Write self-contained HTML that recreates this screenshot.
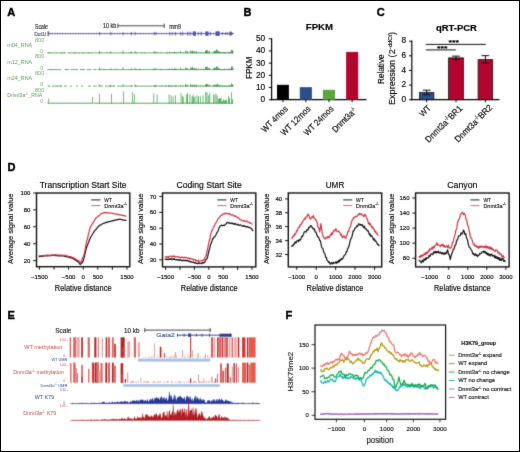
<!DOCTYPE html>
<html><head><meta charset="utf-8"><style>
html,body{margin:0;padding:0;background:#fff;}
svg{display:block;}
text{font-family:"Liberation Sans",sans-serif;}
</style></head><body>
<svg width="520" height="452" viewBox="0 0 520 452">
<defs><filter id="bl" x="0" y="0" width="520" height="452" filterUnits="userSpaceOnUse" color-interpolation-filters="sRGB"><feConvolveMatrix order="3" kernelMatrix="1 6 1 6 36 6 1 6 1" divisor="64" edgeMode="duplicate" preserveAlpha="true"/></filter><filter id="bl2" x="0" y="0" width="520" height="452" filterUnits="userSpaceOnUse" color-interpolation-filters="sRGB"><feConvolveMatrix order="3" kernelMatrix="0 1 0 1 12 1 0 1 0" divisor="16" edgeMode="none" preserveAlpha="false"/></filter></defs>
<g filter="url(#bl)">
<rect width="520" height="452" fill="#fff"/>
<line x1="117.7" y1="25.8" x2="164.4" y2="25.8" stroke="#333" stroke-width="0.9"/>
<line x1="117.9" y1="23.6" x2="117.9" y2="28" stroke="#333" stroke-width="0.9"/>
<line x1="164.2" y1="23.6" x2="164.2" y2="28" stroke="#333" stroke-width="0.9"/>
<line x1="47.7" y1="33.6" x2="233.3" y2="33.6" stroke="#3a3a96" stroke-width="0.7"/>
<path d="M49.4,32.8 L50.3,33.6 L49.4,34.4" fill="none" stroke="#3a3a96" stroke-width="0.45"/>
<path d="M52,32.8 L52.9,33.6 L52,34.4" fill="none" stroke="#3a3a96" stroke-width="0.45"/>
<path d="M54.6,32.8 L55.5,33.6 L54.6,34.4" fill="none" stroke="#3a3a96" stroke-width="0.45"/>
<path d="M57.2,32.8 L58.1,33.6 L57.2,34.4" fill="none" stroke="#3a3a96" stroke-width="0.45"/>
<path d="M59.8,32.8 L60.7,33.6 L59.8,34.4" fill="none" stroke="#3a3a96" stroke-width="0.45"/>
<path d="M62.4,32.8 L63.3,33.6 L62.4,34.4" fill="none" stroke="#3a3a96" stroke-width="0.45"/>
<path d="M65,32.8 L65.9,33.6 L65,34.4" fill="none" stroke="#3a3a96" stroke-width="0.45"/>
<path d="M67.6,32.8 L68.5,33.6 L67.6,34.4" fill="none" stroke="#3a3a96" stroke-width="0.45"/>
<path d="M70.2,32.8 L71.1,33.6 L70.2,34.4" fill="none" stroke="#3a3a96" stroke-width="0.45"/>
<path d="M72.8,32.8 L73.7,33.6 L72.8,34.4" fill="none" stroke="#3a3a96" stroke-width="0.45"/>
<path d="M75.4,32.8 L76.3,33.6 L75.4,34.4" fill="none" stroke="#3a3a96" stroke-width="0.45"/>
<path d="M78,32.8 L78.9,33.6 L78,34.4" fill="none" stroke="#3a3a96" stroke-width="0.45"/>
<path d="M80.6,32.8 L81.5,33.6 L80.6,34.4" fill="none" stroke="#3a3a96" stroke-width="0.45"/>
<path d="M83.2,32.8 L84.1,33.6 L83.2,34.4" fill="none" stroke="#3a3a96" stroke-width="0.45"/>
<path d="M85.8,32.8 L86.7,33.6 L85.8,34.4" fill="none" stroke="#3a3a96" stroke-width="0.45"/>
<path d="M88.4,32.8 L89.3,33.6 L88.4,34.4" fill="none" stroke="#3a3a96" stroke-width="0.45"/>
<path d="M91,32.8 L91.9,33.6 L91,34.4" fill="none" stroke="#3a3a96" stroke-width="0.45"/>
<path d="M93.6,32.8 L94.5,33.6 L93.6,34.4" fill="none" stroke="#3a3a96" stroke-width="0.45"/>
<path d="M96.2,32.8 L97.1,33.6 L96.2,34.4" fill="none" stroke="#3a3a96" stroke-width="0.45"/>
<path d="M98.8,32.8 L99.7,33.6 L98.8,34.4" fill="none" stroke="#3a3a96" stroke-width="0.45"/>
<path d="M101.4,32.8 L102.3,33.6 L101.4,34.4" fill="none" stroke="#3a3a96" stroke-width="0.45"/>
<path d="M104,32.8 L104.9,33.6 L104,34.4" fill="none" stroke="#3a3a96" stroke-width="0.45"/>
<path d="M106.6,32.8 L107.5,33.6 L106.6,34.4" fill="none" stroke="#3a3a96" stroke-width="0.45"/>
<path d="M109.2,32.8 L110.1,33.6 L109.2,34.4" fill="none" stroke="#3a3a96" stroke-width="0.45"/>
<path d="M111.8,32.8 L112.7,33.6 L111.8,34.4" fill="none" stroke="#3a3a96" stroke-width="0.45"/>
<path d="M114.4,32.8 L115.3,33.6 L114.4,34.4" fill="none" stroke="#3a3a96" stroke-width="0.45"/>
<path d="M117,32.8 L117.9,33.6 L117,34.4" fill="none" stroke="#3a3a96" stroke-width="0.45"/>
<path d="M119.6,32.8 L120.5,33.6 L119.6,34.4" fill="none" stroke="#3a3a96" stroke-width="0.45"/>
<path d="M122.2,32.8 L123.1,33.6 L122.2,34.4" fill="none" stroke="#3a3a96" stroke-width="0.45"/>
<path d="M124.8,32.8 L125.7,33.6 L124.8,34.4" fill="none" stroke="#3a3a96" stroke-width="0.45"/>
<path d="M127.4,32.8 L128.3,33.6 L127.4,34.4" fill="none" stroke="#3a3a96" stroke-width="0.45"/>
<path d="M130,32.8 L130.9,33.6 L130,34.4" fill="none" stroke="#3a3a96" stroke-width="0.45"/>
<path d="M132.6,32.8 L133.5,33.6 L132.6,34.4" fill="none" stroke="#3a3a96" stroke-width="0.45"/>
<path d="M135.2,32.8 L136.1,33.6 L135.2,34.4" fill="none" stroke="#3a3a96" stroke-width="0.45"/>
<path d="M137.8,32.8 L138.7,33.6 L137.8,34.4" fill="none" stroke="#3a3a96" stroke-width="0.45"/>
<path d="M140.4,32.8 L141.3,33.6 L140.4,34.4" fill="none" stroke="#3a3a96" stroke-width="0.45"/>
<path d="M143,32.8 L143.9,33.6 L143,34.4" fill="none" stroke="#3a3a96" stroke-width="0.45"/>
<path d="M145.6,32.8 L146.5,33.6 L145.6,34.4" fill="none" stroke="#3a3a96" stroke-width="0.45"/>
<path d="M148.2,32.8 L149.1,33.6 L148.2,34.4" fill="none" stroke="#3a3a96" stroke-width="0.45"/>
<path d="M150.8,32.8 L151.7,33.6 L150.8,34.4" fill="none" stroke="#3a3a96" stroke-width="0.45"/>
<path d="M153.4,32.8 L154.3,33.6 L153.4,34.4" fill="none" stroke="#3a3a96" stroke-width="0.45"/>
<path d="M156,32.8 L156.9,33.6 L156,34.4" fill="none" stroke="#3a3a96" stroke-width="0.45"/>
<path d="M158.6,32.8 L159.5,33.6 L158.6,34.4" fill="none" stroke="#3a3a96" stroke-width="0.45"/>
<path d="M161.2,32.8 L162.1,33.6 L161.2,34.4" fill="none" stroke="#3a3a96" stroke-width="0.45"/>
<path d="M163.8,32.8 L164.7,33.6 L163.8,34.4" fill="none" stroke="#3a3a96" stroke-width="0.45"/>
<path d="M166.4,32.8 L167.3,33.6 L166.4,34.4" fill="none" stroke="#3a3a96" stroke-width="0.45"/>
<path d="M169,32.8 L169.9,33.6 L169,34.4" fill="none" stroke="#3a3a96" stroke-width="0.45"/>
<path d="M171.6,32.8 L172.5,33.6 L171.6,34.4" fill="none" stroke="#3a3a96" stroke-width="0.45"/>
<path d="M174.2,32.8 L175.1,33.6 L174.2,34.4" fill="none" stroke="#3a3a96" stroke-width="0.45"/>
<path d="M176.8,32.8 L177.7,33.6 L176.8,34.4" fill="none" stroke="#3a3a96" stroke-width="0.45"/>
<path d="M179.4,32.8 L180.3,33.6 L179.4,34.4" fill="none" stroke="#3a3a96" stroke-width="0.45"/>
<path d="M182,32.8 L182.9,33.6 L182,34.4" fill="none" stroke="#3a3a96" stroke-width="0.45"/>
<path d="M184.6,32.8 L185.5,33.6 L184.6,34.4" fill="none" stroke="#3a3a96" stroke-width="0.45"/>
<path d="M187.2,32.8 L188.1,33.6 L187.2,34.4" fill="none" stroke="#3a3a96" stroke-width="0.45"/>
<path d="M189.8,32.8 L190.7,33.6 L189.8,34.4" fill="none" stroke="#3a3a96" stroke-width="0.45"/>
<path d="M192.4,32.8 L193.3,33.6 L192.4,34.4" fill="none" stroke="#3a3a96" stroke-width="0.45"/>
<path d="M195,32.8 L195.9,33.6 L195,34.4" fill="none" stroke="#3a3a96" stroke-width="0.45"/>
<path d="M197.6,32.8 L198.5,33.6 L197.6,34.4" fill="none" stroke="#3a3a96" stroke-width="0.45"/>
<path d="M200.2,32.8 L201.1,33.6 L200.2,34.4" fill="none" stroke="#3a3a96" stroke-width="0.45"/>
<path d="M202.8,32.8 L203.7,33.6 L202.8,34.4" fill="none" stroke="#3a3a96" stroke-width="0.45"/>
<path d="M205.4,32.8 L206.3,33.6 L205.4,34.4" fill="none" stroke="#3a3a96" stroke-width="0.45"/>
<path d="M208,32.8 L208.9,33.6 L208,34.4" fill="none" stroke="#3a3a96" stroke-width="0.45"/>
<path d="M210.6,32.8 L211.5,33.6 L210.6,34.4" fill="none" stroke="#3a3a96" stroke-width="0.45"/>
<path d="M213.2,32.8 L214.1,33.6 L213.2,34.4" fill="none" stroke="#3a3a96" stroke-width="0.45"/>
<path d="M215.8,32.8 L216.7,33.6 L215.8,34.4" fill="none" stroke="#3a3a96" stroke-width="0.45"/>
<path d="M218.4,32.8 L219.3,33.6 L218.4,34.4" fill="none" stroke="#3a3a96" stroke-width="0.45"/>
<path d="M221,32.8 L221.9,33.6 L221,34.4" fill="none" stroke="#3a3a96" stroke-width="0.45"/>
<path d="M223.6,32.8 L224.5,33.6 L223.6,34.4" fill="none" stroke="#3a3a96" stroke-width="0.45"/>
<path d="M226.2,32.8 L227.1,33.6 L226.2,34.4" fill="none" stroke="#3a3a96" stroke-width="0.45"/>
<path d="M228.8,32.8 L229.7,33.6 L228.8,34.4" fill="none" stroke="#3a3a96" stroke-width="0.45"/>
<path d="M231.4,32.8 L232.3,33.6 L231.4,34.4" fill="none" stroke="#3a3a96" stroke-width="0.45"/>
<rect x="47.6" y="31.1" width="1.2" height="5" fill="#4a4aa0"/>
<rect x="99.3" y="31.9" width="0.7" height="3.4" fill="#4a4aa0"/>
<rect x="110.6" y="31.9" width="0.7" height="3.4" fill="#4a4aa0"/>
<rect x="122.7" y="31.8" width="0.7" height="3.6" fill="#4a4aa0"/>
<rect x="131.3" y="31.9" width="0.7" height="3.4" fill="#4a4aa0"/>
<rect x="134.8" y="31.9" width="0.7" height="3.4" fill="#4a4aa0"/>
<rect x="153.8" y="31.9" width="0.7" height="3.4" fill="#4a4aa0"/>
<rect x="155.6" y="31.9" width="0.7" height="3.4" fill="#4a4aa0"/>
<rect x="169.4" y="31.8" width="0.7" height="3.6" fill="#4a4aa0"/>
<rect x="171.8" y="31.8" width="0.7" height="3.6" fill="#4a4aa0"/>
<rect x="175.2" y="31.8" width="0.8" height="3.6" fill="#4a4aa0"/>
<rect x="180.4" y="31.7" width="0.8" height="3.8" fill="#4a4aa0"/>
<rect x="182.4" y="31.7" width="0.8" height="3.8" fill="#4a4aa0"/>
<rect x="186.9" y="31.7" width="0.7" height="3.8" fill="#4a4aa0"/>
<rect x="188.7" y="31.7" width="0.7" height="3.8" fill="#4a4aa0"/>
<rect x="190.5" y="31.7" width="0.7" height="3.8" fill="#4a4aa0"/>
<rect x="192.9" y="31.4" width="3" height="4.4" fill="#5050a8"/>
<rect x="198.2" y="31.8" width="0.7" height="3.6" fill="#4a4aa0"/>
<rect x="200.8" y="31.7" width="0.9" height="3.8" fill="#4a4aa0"/>
<rect x="205.4" y="31.4" width="3" height="4.4" fill="#5050a8"/>
<rect x="209.7" y="31.7" width="0.9" height="3.8" fill="#4a4aa0"/>
<rect x="215.5" y="31.3" width="4.2" height="4.6" fill="#5050a8"/>
<rect x="222" y="32.1" width="0.7" height="3" fill="#4a4aa0"/>
<rect x="225" y="32.1" width="0.7" height="3" fill="#4a4aa0"/>
<rect x="227.4" y="32.1" width="0.7" height="3" fill="#4a4aa0"/>
<rect x="229.4" y="31.6" width="2.2" height="4" fill="#5050a8"/>
<path d="M231.5,32.2 L233.6,33.6 L231.5,35" fill="#3a3a96"/>
<line x1="45.9" y1="40.5" x2="46.9" y2="40.5" stroke="#8dc08d" stroke-width="0.5"/>
<line x1="45.9" y1="57.1" x2="46.9" y2="57.1" stroke="#8dc08d" stroke-width="0.5"/>
<line x1="45.9" y1="73.6" x2="46.9" y2="73.6" stroke="#8dc08d" stroke-width="0.5"/>
<line x1="45.9" y1="90.8" x2="46.9" y2="90.8" stroke="#8dc08d" stroke-width="0.5"/>
<path d="M47.1,52.9 H66 M67.5,52.9 H80 M80.5,52.9 H233.3" stroke="#2a8a38" stroke-width="0.7" fill="none"/>
<path d="M99.05,53.2 V51 H99.75 V53.2 Z M110.5,53.2 V51.5 H111.2 V53.2 Z M122.6,53.2 V50.5 H123.3 V53.2 Z M131.2,53.2 V51.5 H131.9 V53.2 Z M134.7,53.2 V51 H135.4 V53.2 Z M153.7,53.2 V51.5 H154.4 V53.2 Z M155.5,53.2 V51.5 H156.2 V53.2 Z M169.3,53.2 V51.5 H170 V53.2 Z M171.7,53.2 V51.8 H172.4 V53.2 Z M174.7,53.2 V51.8 H175.4 V53.2 Z M180.15,53.2 V51 H180.85 V53.2 Z M182.5,53.2 V52 H183.2 V53.2 Z M185.15,53.2 V50.5 H185.85 V53.2 Z M186.5,53.2 V51.6 H187.25 V53.2 Z M187.39,53.2 V51.3 H188 V53.2 Z M190.15,53.2 V50.5 H190.85 V53.2 Z M191.5,53.2 V51.12 H192.25 V53.2 Z M192.41,53.2 V50.57 H193 V53.2 Z M193.5,53.2 V51.23 H194.25 V53.2 Z M194.63,53.2 V51.05 H195 V53.2 Z M195.5,53.2 V51.42 H196.25 V53.2 Z M196.36,53.2 V51.49 H197 V53.2 Z M198.05,53.2 V52 H198.75 V53.2 Z M200.5,53.2 V51.8 H201.2 V53.2 Z M203.05,53.2 V52 H203.75 V53.2 Z M205,53.2 V50.97 H205.75 V53.2 Z M205.89,53.2 V50.12 H206.5 V53.2 Z M206.5,53.2 V50.61 H207.25 V53.2 Z M207.59,53.2 V49.76 H208 V53.2 Z M208.5,53.2 V51.48 H209.25 V53.2 Z M209.41,53.2 V50.78 H210 V53.2 Z M213.15,53.2 V51.5 H213.85 V53.2 Z M214,53.2 V50.8 H214.75 V53.2 Z M215.12,53.2 V50.96 H215.87 V53.2 Z M216,53.2 V49.24 H216.75 V53.2 Z M217.17,53.2 V49.93 H217.92 V53.2 Z M218,53.2 V51.28 H218.75 V53.2 Z M219.01,53.2 V51.34 H219.76 V53.2 Z M220,53.2 V52.23 H220.75 V53.2 Z M220.87,53.2 V52.35 H221.62 V53.2 Z M222.11,53.2 V52.14 H222.86 V53.2 Z M223.08,53.2 V52.15 H223.83 V53.2 Z M224.06,53.2 V52.12 H224.81 V53.2 Z M225.2,53.2 V52.31 H225.95 V53.2 Z M226.16,53.2 V52.46 H226.91 V53.2 Z M227.36,53.2 V52.45 H228.11 V53.2 Z M228.54,53.2 V52.11 H229 V53.2 Z M229,53.2 V52 H229.75 V53.2 Z M230.2,53.2 V51.52 H230.95 V53.2 Z M231,53.2 V49.79 H231.75 V53.2 Z M232,53.2 V50.04 H232.5 V53.2 Z M232.55,53.2 V51 H233.25 V53.2 Z M48.1,53.2 V52.02 H48.8 V53.2 Z M50.7,53.2 V52.3 H51.4 V53.2 Z M55.9,53.2 V52.68 H56.6 V53.2 Z M61.1,53.2 V52.34 H61.8 V53.2 Z M63.7,53.2 V51.94 H64.4 V53.2 Z M68.5,53.2 V52.68 H69.2 V53.2 Z M73.7,53.2 V52.36 H74.4 V53.2 Z M75,53.2 V52.52 H75.7 V53.2 Z M78.9,53.2 V52.52 H79.6 V53.2 Z M81.5,53.2 V52.33 H82.2 V53.2 Z M82.8,53.2 V52.68 H83.5 V53.2 Z M88,53.2 V51.91 H88.7 V53.2 Z M90.6,53.2 V52.43 H91.3 V53.2 Z M99.7,53.2 V52.23 H100.4 V53.2 Z M106.2,53.2 V52.51 H106.9 V53.2 Z M110.1,53.2 V52.26 H110.8 V53.2 Z M123.1,53.2 V52.67 H123.8 V53.2 Z M129.6,53.2 V52.3 H130.3 V53.2 Z M136.1,53.2 V52.29 H136.8 V53.2 Z M141.3,53.2 V52.26 H142 V53.2 Z M143.9,53.2 V52.07 H144.6 V53.2 Z M154.3,53.2 V52 H155 V53.2 Z M156.9,53.2 V52.3 H157.6 V53.2 Z M160.8,53.2 V52.27 H161.5 V53.2 Z M166,53.2 V52.52 H166.7 V53.2 Z M167.3,53.2 V52.23 H168 V53.2 Z M173.8,53.2 V52.03 H174.5 V53.2 Z M176.4,53.2 V52.69 H177.1 V53.2 Z M177.7,53.2 V52.1 H178.4 V53.2 Z" fill="#2a8a38" stroke="none"/>
<path d="M47.1,69.6 H61.4 M64.6,69.6 H69.3 M70.4,69.6 H77.8 M79.9,69.6 H85.2 M86.8,69.6 H91.6 M93.5,69.6 H96.5 M97.5,69.6 H233.3" stroke="#2a8a38" stroke-width="0.7" fill="none"/>
<path d="M99.05,69.9 V67.7 H99.75 V69.9 Z M110.5,69.9 V68.2 H111.2 V69.9 Z M122.6,69.9 V67.2 H123.3 V69.9 Z M131.2,69.9 V68.2 H131.9 V69.9 Z M134.7,69.9 V67.7 H135.4 V69.9 Z M153.7,69.9 V68.2 H154.4 V69.9 Z M155.5,69.9 V68.2 H156.2 V69.9 Z M169.3,69.9 V68.2 H170 V69.9 Z M171.7,69.9 V68.5 H172.4 V69.9 Z M174.7,69.9 V68.5 H175.4 V69.9 Z M180.15,69.9 V67.8 H180.85 V69.9 Z M182.5,69.9 V68.75 H183.2 V69.9 Z M185.15,69.9 V67.33 H185.85 V69.9 Z M186.5,69.9 V67.94 H187.25 V69.9 Z M187.41,69.9 V68.42 H188 V69.9 Z M190.15,69.9 V67.33 H190.85 V69.9 Z M191.5,69.9 V67.55 H192.25 V69.9 Z M192.37,69.9 V66.86 H193 V69.9 Z M193.5,69.9 V68.24 H194.25 V69.9 Z M194.49,69.9 V67.69 H195 V69.9 Z M195.5,69.9 V68.47 H196.25 V69.9 Z M196.48,69.9 V68.54 H197 V69.9 Z M198.05,69.9 V68.75 H198.75 V69.9 Z M200.5,69.9 V68.56 H201.2 V69.9 Z M203.05,69.9 V68.75 H203.75 V69.9 Z M205,69.9 V67.12 H205.75 V69.9 Z M206.15,69.9 V66.96 H206.5 V69.9 Z M206.5,69.9 V66.56 H207.25 V69.9 Z M207.63,69.9 V67.08 H208 V69.9 Z M208.5,69.9 V67.65 H209.25 V69.9 Z M209.48,69.9 V68.18 H210 V69.9 Z M213.15,69.9 V68.28 H213.85 V69.9 Z M214,69.9 V67.44 H214.75 V69.9 Z M214.9,69.9 V67.72 H215.65 V69.9 Z M216,69.9 V66.79 H216.75 V69.9 Z M216.91,69.9 V66.15 H217.66 V69.9 Z M218,69.9 V68.1 H218.75 V69.9 Z M219.02,69.9 V68.55 H219.77 V69.9 Z M220,69.9 V69.14 H220.75 V69.9 Z M220.87,69.9 V69.18 H221.62 V69.9 Z M221.79,69.9 V69.15 H222.54 V69.9 Z M222.89,69.9 V69.01 H223.64 V69.9 Z M224.13,69.9 V68.87 H224.88 V69.9 Z M225.38,69.9 V69.11 H226.13 V69.9 Z M226.41,69.9 V69.1 H227.16 V69.9 Z M227.5,69.9 V68.97 H228.25 V69.9 Z M228.67,69.9 V68.94 H229 V69.9 Z M229,69.9 V68.6 H229.75 V69.9 Z M230.06,69.9 V68.84 H230.81 V69.9 Z M231,69.9 V66.8 H231.75 V69.9 Z M231.89,69.9 V66.32 H232.5 V69.9 Z M232.55,69.9 V67.8 H233.25 V69.9 Z M50.7,69.9 V69.33 H51.4 V69.9 Z M65.6,69.9 V69.06 H66.3 V69.9 Z M76.6,69.9 V69.37 H77.3 V69.9 Z M80.9,69.9 V69.03 H81.6 V69.9 Z M94.5,69.9 V69.38 H95.2 V69.9 Z M99.8,69.9 V68.99 H100.5 V69.9 Z M103.7,69.9 V68.69 H104.4 V69.9 Z M115.4,69.9 V68.8 H116.1 V69.9 Z M136.2,69.9 V69.14 H136.9 V69.9 Z M138.8,69.9 V68.67 H139.5 V69.9 Z M140.1,69.9 V68.67 H140.8 V69.9 Z M151.8,69.9 V68.99 H152.5 V69.9 Z M155.7,69.9 V68.74 H156.4 V69.9 Z M159.6,69.9 V68.8 H160.3 V69.9 Z M160.9,69.9 V68.88 H161.6 V69.9 Z M162.2,69.9 V69.22 H162.9 V69.9 Z M164.8,69.9 V68.98 H165.5 V69.9 Z M167.4,69.9 V69.23 H168.1 V69.9 Z M172.6,69.9 V69.11 H173.3 V69.9 Z M173.9,69.9 V68.86 H174.6 V69.9 Z M175.2,69.9 V68.64 H175.9 V69.9 Z M176.5,69.9 V68.82 H177.2 V69.9 Z M177.8,69.9 V69.2 H178.5 V69.9 Z" fill="#2a8a38" stroke="none"/>
<path d="M47.7,86.1 H50 M52,86.1 H62 M64,86.1 H67 M70,86.1 H72 M76,86.1 H78 M81,86.1 H83 M88,86.1 H91 M93,86.1 H97 M98.5,86.1 H103 M105,86.1 H115 M117,86.1 H133 M134.5,86.1 H233.3" stroke="#2a8a38" stroke-width="0.7" fill="none"/>
<path d="M99.05,86.4 V84.6 H99.75 V86.4 Z M110.5,86.4 V85 H111.2 V86.4 Z M122.6,86.4 V84.2 H123.3 V86.4 Z M131.2,86.4 V85 H131.9 V86.4 Z M134.7,86.4 V84.6 H135.4 V86.4 Z M153.7,86.4 V85 H154.4 V86.4 Z M155.5,86.4 V85 H156.2 V86.4 Z M169.3,86.4 V85 H170 V86.4 Z M171.7,86.4 V85.24 H172.4 V86.4 Z M174.7,86.4 V85.24 H175.4 V86.4 Z M180.15,86.4 V84.7 H180.85 V86.4 Z M182.5,86.4 V85.45 H183.2 V86.4 Z M185.15,86.4 V84.33 H185.85 V86.4 Z M186.5,86.4 V84.71 H187.25 V86.4 Z M187.55,86.4 V84.7 H188 V86.4 Z M190.15,86.4 V84.33 H190.85 V86.4 Z M191.5,86.4 V84.78 H192.25 V86.4 Z M192.59,86.4 V84.82 H193 V86.4 Z M193.5,86.4 V84.77 H194.25 V86.4 Z M194.59,86.4 V84.96 H195 V86.4 Z M195.5,86.4 V84.78 H196.25 V86.4 Z M196.48,86.4 V84.72 H197 V86.4 Z M198.05,86.4 V85.45 H198.75 V86.4 Z M200.5,86.4 V85.3 H201.2 V86.4 Z M203.05,86.4 V85.45 H203.75 V86.4 Z M205,86.4 V84.51 H205.75 V86.4 Z M206.03,86.4 V84.38 H206.5 V86.4 Z M206.5,86.4 V84 H207.25 V86.4 Z M207.57,86.4 V83.97 H208 V86.4 Z M208.5,86.4 V84.69 H209.25 V86.4 Z M209.52,86.4 V84.53 H210 V86.4 Z M213.15,86.4 V85.08 H213.85 V86.4 Z M214,86.4 V84.85 H214.75 V86.4 Z M215.24,86.4 V84.68 H215.99 V86.4 Z M216,86.4 V84.48 H216.75 V86.4 Z M217.02,86.4 V83.83 H217.77 V86.4 Z M218,86.4 V84.93 H218.75 V86.4 Z M219.1,86.4 V85.26 H219.85 V86.4 Z M220,86.4 V85.67 H220.75 V86.4 Z M221.12,86.4 V85.7 H221.87 V86.4 Z M222.25,86.4 V85.6 H223 V86.4 Z M223.11,86.4 V85.78 H223.86 V86.4 Z M224.23,86.4 V85.53 H224.98 V86.4 Z M225.18,86.4 V85.67 H225.93 V86.4 Z M226.27,86.4 V85.71 H227.02 V86.4 Z M227.27,86.4 V85.71 H228.02 V86.4 Z M228.26,86.4 V85.63 H229 V86.4 Z M229,86.4 V85.36 H229.75 V86.4 Z M230.16,86.4 V85.51 H230.91 V86.4 Z M231,86.4 V83.52 H231.75 V86.4 Z M231.97,86.4 V84.13 H232.5 V86.4 Z M232.55,86.4 V84.7 H233.25 V86.4 Z M48.7,86.4 V85.46 H49.4 V86.4 Z M56.9,86.4 V85.89 H57.6 V86.4 Z M60.8,86.4 V85.1 H61.5 V86.4 Z M99.5,86.4 V85.39 H100.2 V86.4 Z M109.9,86.4 V85.29 H110.6 V86.4 Z M113.8,86.4 V85.21 H114.5 V86.4 Z M131,86.4 V85.79 H131.7 V86.4 Z M135.5,86.4 V85.13 H136.2 V86.4 Z M155,86.4 V85.21 H155.7 V86.4 Z M161.5,86.4 V85.23 H162.2 V86.4 Z M165.4,86.4 V85.22 H166.1 V86.4 Z M168,86.4 V85.26 H168.7 V86.4 Z M170.6,86.4 V85.66 H171.3 V86.4 Z M174.5,86.4 V85.41 H175.2 V86.4 Z M175.8,86.4 V85.33 H176.5 V86.4 Z" fill="#2a8a38" stroke="none"/>
<path d="M47.7,103.2 H92.5 M93.5,103.2 H233.3" stroke="#2a8a38" stroke-width="0.8" fill="none"/>
<path d="M48.35,103.5 V98.6 H49.05 V103.5 Z M92.05,103.5 V97 H92.75 V103.5 Z M98.95,103.5 V93.8 H99.65 V103.5 Z M111.25,103.5 V93.8 H111.95 V103.5 Z M123.35,103.5 V91.3 H124.05 V103.5 Z M132.05,103.5 V92.3 H132.75 V103.5 Z M133.95,103.5 V94.3 H134.65 V103.5 Z M153.45,103.5 V93.3 H154.15 V103.5 Z M156.75,103.5 V94.3 H157.45 V103.5 Z M168.75,103.5 V94.3 H169.45 V103.5 Z M170.75,103.5 V95.3 H171.45 V103.5 Z M172.75,103.5 V96.3 H173.45 V103.5 Z M175.25,103.5 V95.3 H175.95 V103.5 Z M180.65,103.5 V93.3 H181.35 V103.5 Z M182.2,103.5 V95.8 H182.95 V103.5 Z M183.35,103.5 V97.15 H183.9 V103.5 Z M186.3,103.5 V94.45 H187.05 V103.5 Z M187.31,103.5 V93.25 H188.06 V103.5 Z M189.55,103.5 V94.3 H190.25 V103.5 Z M191.7,103.5 V96.18 H192.45 V103.5 Z M192.78,103.5 V94.63 H193.53 V103.5 Z M193.84,103.5 V96.89 H194.59 V103.5 Z M194.99,103.5 V95.67 H195.3 V103.5 Z M196.7,103.5 V95.3 H197.4 V103.5 Z M198.15,103.5 V96.3 H198.85 V103.5 Z M199.95,103.5 V96.3 H200.65 V103.5 Z M202.65,103.5 V95.3 H203.35 V103.5 Z M205.4,103.5 V91.73 H206.15 V103.5 Z M206.64,103.5 V92.21 H207.39 V103.5 Z M208.4,103.5 V95.34 H209.15 V103.5 Z M209.54,103.5 V92.75 H210.2 V103.5 Z M213.1,103.5 V94.62 H213.85 V103.5 Z M213.99,103.5 V94.79 H214.3 V103.5 Z M215.5,103.5 V93.65 H216.25 V103.5 Z M216.74,103.5 V95.39 H217.49 V103.5 Z M217.9,103.5 V99.07 H218.65 V103.5 Z M219.07,103.5 V98.38 H219.82 V103.5 Z M219.93,103.5 V97.97 H220.68 V103.5 Z M220.94,103.5 V97.72 H221.5 V103.5 Z M222.1,103.5 V100.9 H222.85 V103.5 Z M223.15,103.5 V99.51 H223.9 V103.5 Z M224.09,103.5 V100.38 H224.84 V103.5 Z M225,103.5 V99.92 H225.75 V103.5 Z M226.08,103.5 V99.82 H226.83 V103.5 Z M228,103.5 V95.93 H228.75 V103.5 Z M229.03,103.5 V98.24 H229.78 V103.5 Z M231.25,103.5 V92.3 H231.95 V103.5 Z M232.2,103.5 V99.28 H232.95 V103.5 Z" fill="#2ea03c" stroke="none"/>
<line x1="271.6" y1="38.2" x2="271.6" y2="100.3" stroke="#000" stroke-width="1.2"/>
<line x1="268.8" y1="99.7" x2="271.6" y2="99.7" stroke="#000" stroke-width="1"/>
<line x1="268.8" y1="87.51" x2="271.6" y2="87.51" stroke="#000" stroke-width="1"/>
<line x1="268.8" y1="75.32" x2="271.6" y2="75.32" stroke="#000" stroke-width="1"/>
<line x1="268.8" y1="63.13" x2="271.6" y2="63.13" stroke="#000" stroke-width="1"/>
<line x1="268.8" y1="50.94" x2="271.6" y2="50.94" stroke="#000" stroke-width="1"/>
<line x1="268.8" y1="38.75" x2="271.6" y2="38.75" stroke="#000" stroke-width="1"/>
<line x1="271" y1="99.7" x2="366.5" y2="99.7" stroke="#000" stroke-width="1.2"/>
<rect x="277" y="84.83" width="11.9" height="14.87" fill="#000000"/>
<line x1="282.95" y1="99.7" x2="282.95" y2="102.2" stroke="#000" stroke-width="1"/>
<rect x="299.8" y="87.14" width="12.1" height="12.56" fill="#2c4f89"/>
<line x1="305.85" y1="99.7" x2="305.85" y2="102.2" stroke="#000" stroke-width="1"/>
<rect x="322.9" y="89.83" width="12.1" height="9.87" fill="#5da53e"/>
<line x1="328.95" y1="99.7" x2="328.95" y2="102.2" stroke="#000" stroke-width="1"/>
<rect x="346.1" y="51.92" width="12.1" height="47.78" fill="#b3062f"/>
<line x1="352.15" y1="99.7" x2="352.15" y2="102.2" stroke="#000" stroke-width="1"/>
<line x1="411.8" y1="40.6" x2="411.8" y2="100.3" stroke="#000" stroke-width="1.2"/>
<line x1="409" y1="99.7" x2="411.8" y2="99.7" stroke="#000" stroke-width="1"/>
<line x1="409" y1="85.08" x2="411.8" y2="85.08" stroke="#000" stroke-width="1"/>
<line x1="409" y1="70.46" x2="411.8" y2="70.46" stroke="#000" stroke-width="1"/>
<line x1="409" y1="55.84" x2="411.8" y2="55.84" stroke="#000" stroke-width="1"/>
<line x1="409" y1="41.22" x2="411.8" y2="41.22" stroke="#000" stroke-width="1"/>
<line x1="411.2" y1="99.7" x2="499.4" y2="99.7" stroke="#000" stroke-width="1.2"/>
<rect x="419.5" y="92.61" width="14.4" height="7.09" fill="#2c4f89" stroke="#111" stroke-width="0.8"/>
<line x1="426.7" y1="90.2" x2="426.7" y2="94.8" stroke="#111" stroke-width="1"/>
<line x1="422.8" y1="90.2" x2="430.6" y2="90.2" stroke="#111" stroke-width="1"/>
<line x1="422.8" y1="94.8" x2="430.6" y2="94.8" stroke="#111" stroke-width="1"/>
<line x1="426.7" y1="99.7" x2="426.7" y2="102.3" stroke="#000" stroke-width="1"/>
<rect x="448.6" y="57.89" width="14.8" height="41.81" fill="#b3062f" stroke="#111" stroke-width="0.8"/>
<line x1="456" y1="56.13" x2="456" y2="59.35" stroke="#111" stroke-width="1"/>
<line x1="452.1" y1="56.13" x2="459.9" y2="56.13" stroke="#111" stroke-width="1"/>
<line x1="452.1" y1="59.35" x2="459.9" y2="59.35" stroke="#111" stroke-width="1"/>
<line x1="456" y1="99.7" x2="456" y2="102.3" stroke="#000" stroke-width="1"/>
<rect x="478.1" y="59.64" width="14.6" height="40.06" fill="#b3062f" stroke="#111" stroke-width="0.8"/>
<line x1="485.4" y1="55.62" x2="485.4" y2="62.93" stroke="#111" stroke-width="1"/>
<line x1="481.5" y1="55.62" x2="489.3" y2="55.62" stroke="#111" stroke-width="1"/>
<line x1="481.5" y1="62.93" x2="489.3" y2="62.93" stroke="#111" stroke-width="1"/>
<line x1="485.4" y1="99.7" x2="485.4" y2="102.3" stroke="#000" stroke-width="1"/>
<line x1="425.8" y1="44.4" x2="485.8" y2="44.4" stroke="#111" stroke-width="1"/>
<line x1="425.8" y1="49.9" x2="455.8" y2="49.9" stroke="#111" stroke-width="1"/>
<line x1="33.2" y1="260.6" x2="36.5" y2="260.6" stroke="#111" stroke-width="1.0"/>
<line x1="33.2" y1="243.69" x2="36.5" y2="243.69" stroke="#111" stroke-width="1.0"/>
<line x1="33.2" y1="226.78" x2="36.5" y2="226.78" stroke="#111" stroke-width="1.0"/>
<line x1="33.2" y1="209.87" x2="36.5" y2="209.87" stroke="#111" stroke-width="1.0"/>
<line x1="33.2" y1="192.96" x2="36.5" y2="192.96" stroke="#111" stroke-width="1.0"/>
<line x1="39.4" y1="266.7" x2="39.4" y2="269.7" stroke="#111" stroke-width="1.0"/>
<line x1="54" y1="266.7" x2="54" y2="269.7" stroke="#111" stroke-width="1.0"/>
<line x1="68.6" y1="266.7" x2="68.6" y2="269.7" stroke="#111" stroke-width="1.0"/>
<line x1="83.2" y1="266.7" x2="83.2" y2="269.7" stroke="#111" stroke-width="1.0"/>
<line x1="97.8" y1="266.7" x2="97.8" y2="269.7" stroke="#111" stroke-width="1.0"/>
<line x1="112.4" y1="266.7" x2="112.4" y2="269.7" stroke="#111" stroke-width="1.0"/>
<line x1="127" y1="266.7" x2="127" y2="269.7" stroke="#111" stroke-width="1.0"/>
<polyline points="38.7,256.6 39.43,256.33 40.16,256.57 40.89,256.27 41.62,256.43 42.35,256.13 43.08,256.19 43.81,256.2 44.54,255.76 45.27,255.73 46,255.88 46.74,255.63 47.47,255.81 48.21,255.63 48.95,255.78 49.68,255.75 50.42,255.45 51.15,255.67 51.89,255.31 52.63,255.3 53.36,255.54 54.1,255.3 54.85,255.61 55.6,255.3 56.35,255.72 57.1,255.63 57.85,255.42 58.6,255.85 59.35,255.62 60.1,255.9 60.85,255.7 61.6,256.01 62.35,255.78 63.1,255.97 63.8,255.9 64.5,256.38 65.2,256.32 65.9,256.66 66.6,256.67 67.3,257.01 68,256.89 68.7,257.15 69.4,257.33 70.1,257.77 70.8,257.69 71.5,257.84 72.2,258.27 72.97,258.46 73.74,259.09 74.51,259.38 75.29,260.04 76.06,260.19 76.83,260.98 77.6,261.39 78.5,262.15 79.4,263.27 80.3,264.56 81.2,263.59 82.1,262.78 83,261.58 83.72,258.87 84.44,255.99 85.16,252.9 85.88,249.96 86.6,247.28 87.32,245.33 88.04,243.74 88.76,241.95 89.48,239.81 90.2,238.26 90.92,236.82 91.64,235.76 92.36,234.28 93.08,233.27 93.8,232.1 94.59,230.83 95.37,230.15 96.16,229.09 96.94,228.08 97.73,227.27 98.51,226.54 99.3,225.4 100.07,225.04 100.84,224.89 101.61,224.51 102.39,223.79 103.16,223.46 103.93,223.37 104.7,222.92 105.42,222.44 106.14,222.59 106.86,222.12 107.58,222.15 108.3,221.7 109.02,221.56 109.74,221.7 110.46,221.24 111.18,221.11 111.9,221.06 112.63,220.69 113.36,220.8 114.09,220.31 114.82,220.18 115.55,220.2 116.28,219.83 117.01,219.93 117.74,219.44 118.47,219.27 119.2,219.29 119.92,219.16 120.64,219.28 121.36,219.73 122.08,219.64 122.8,220.03 123.52,220.14 124.24,220.21 124.96,220.12 125.68,220.46 126.4,220.5" fill="none" stroke="#111" stroke-width="1.2" stroke-linejoin="round"/>
<polyline points="38.7,256.1 39.43,255.87 40.16,256 40.89,255.76 41.62,255.62 42.35,255.84 43.08,255.54 43.81,255.62 44.54,255.53 45.27,255.45 46,255.19 46.74,255.45 47.47,255.18 48.21,255.09 48.95,255.39 49.68,255.24 50.42,255.06 51.15,255.26 51.89,254.92 52.63,255.14 53.36,255.14 54.1,254.86 54.82,255.14 55.54,254.89 56.26,254.88 56.98,255.22 57.7,254.98 58.42,255.24 59.14,255.08 59.86,255.39 60.58,255.18 61.3,255.15 62.02,255.38 62.74,255.21 63.46,255.42 64.18,255.29 64.9,255.47 65.63,255.47 66.36,255.83 67.09,255.85 67.82,256.25 68.55,256.43 69.28,256.56 70.01,256.77 70.74,256.68 71.47,256.96 72.2,257.37 72.99,257.56 73.78,258.17 74.56,258.35 75.35,258.87 76.14,259.56 76.92,259.72 77.71,260.44 78.5,260.67 79.27,261.5 80.03,262.19 80.8,262.5 81.58,260.7 82.35,258.87 83.12,257.36 83.9,255.3 84.8,251.02 85.7,246.25 86.6,241.68 87.32,239.02 88.04,236.14 88.76,232.91 89.48,230.03 90.2,227.44 90.99,226.18 91.77,224.62 92.56,223.61 93.34,222.09 94.13,221.06 94.91,219.4 95.7,218.17 96.47,217.77 97.24,216.9 98.01,216.56 98.79,215.59 99.56,215.16 100.33,214.28 101.1,213.89 101.82,213.43 102.54,213.36 103.26,212.92 103.98,212.93 104.7,212.31 105.42,212.63 106.14,212.52 106.86,212.86 107.58,212.69 108.3,213.04 109.02,212.81 109.74,213.08 110.46,212.97 111.18,213 111.9,213.28 112.63,213.21 113.36,213.41 114.09,213.83 114.82,213.89 115.55,213.78 116.28,214.25 117.01,214.05 117.74,214.56 118.47,214.39 119.2,214.83 119.92,214.74 120.64,215.07 121.36,215.02 122.08,215.43 122.8,215.21 123.52,215.65 124.24,215.87 124.96,215.74 125.68,216.14 126.4,216.1" fill="none" stroke="#d4303e" stroke-width="1.2" stroke-linejoin="round"/>
<line x1="91.3" y1="199.9" x2="100.4" y2="199.9" stroke="#000" stroke-width="0.9"/>
<line x1="91.3" y1="205.6" x2="100.4" y2="205.6" stroke="#d85060" stroke-width="0.9"/>
<rect x="36.5" y="193" width="93.3" height="73.7" fill="none" stroke="#111" stroke-width="1.4"/>
<line x1="159.2" y1="259.8" x2="162.5" y2="259.8" stroke="#111" stroke-width="1.0"/>
<line x1="159.2" y1="243.98" x2="162.5" y2="243.98" stroke="#111" stroke-width="1.0"/>
<line x1="159.2" y1="228.15" x2="162.5" y2="228.15" stroke="#111" stroke-width="1.0"/>
<line x1="159.2" y1="212.33" x2="162.5" y2="212.33" stroke="#111" stroke-width="1.0"/>
<line x1="159.2" y1="196.5" x2="162.5" y2="196.5" stroke="#111" stroke-width="1.0"/>
<line x1="165.6" y1="266.9" x2="165.6" y2="269.9" stroke="#111" stroke-width="1.0"/>
<line x1="180" y1="266.9" x2="180" y2="269.9" stroke="#111" stroke-width="1.0"/>
<line x1="194.4" y1="266.9" x2="194.4" y2="269.9" stroke="#111" stroke-width="1.0"/>
<line x1="208.8" y1="266.9" x2="208.8" y2="269.9" stroke="#111" stroke-width="1.0"/>
<line x1="223.2" y1="266.9" x2="223.2" y2="269.9" stroke="#111" stroke-width="1.0"/>
<line x1="237.6" y1="266.9" x2="237.6" y2="269.9" stroke="#111" stroke-width="1.0"/>
<line x1="252" y1="266.9" x2="252" y2="269.9" stroke="#111" stroke-width="1.0"/>
<polyline points="164.7,259.5 165.44,259.08 166.17,259.63 166.91,258.93 167.65,259.64 168.38,259.12 169.12,259.58 169.85,258.75 170.59,259.37 171.33,258.59 172.06,259.5 172.8,258.84 173.53,259.44 174.26,258.76 174.99,259.56 175.72,259.67 176.45,259.91 177.18,259.45 177.91,260.06 178.64,259.51 179.37,260.5 180.1,259.71 180.82,259.85 181.54,260.67 182.26,260.19 182.98,260.88 183.7,260.03 184.42,260.27 185.14,260.93 185.86,260.18 186.58,260.9 187.3,260.4 188.02,260.66 188.74,261.5 189.46,261.11 190.18,261.86 190.9,261.49 191.62,262.15 192.34,262.33 193.06,261.98 193.78,262.59 194.5,263.02 195.29,262.34 196.07,263.32 196.86,263.28 197.64,263.6 198.43,262.78 199.21,263.65 200,263.04 200.75,263.52 201.5,263.62 202.25,262.61 203,263.14 203.75,262.45 204.5,262.77 205.4,260.64 206.3,259.19 207.2,258.34 208.1,254.8 209,250.67 209.9,247.64 210.8,244.04 211.7,242.1 212.6,238.65 213.32,238.54 214.04,236.88 214.76,236.79 215.48,235.66 216.2,234.22 216.92,232.61 217.64,231.61 218.36,230.15 219.08,227.86 219.8,226.56 220.75,225.75 221.7,225.12 222.6,225.84 223.5,225.18 224.4,225.71 225.3,224.32 226.2,224.04 227.1,222.4 227.87,222.46 228.64,223.12 229.41,222.88 230.19,223.35 230.96,222.99 231.73,223.57 232.5,223.11 233.27,224.04 234.04,223.42 234.81,224.4 235.59,223.73 236.36,224.66 237.13,224.69 237.9,224.27 238.63,224.95 239.36,225.45 240.09,224.88 240.82,225.13 241.55,225.68 242.28,226.1 243.01,225.49 243.74,226.42 244.47,225.89 245.2,226.69 245.97,226.42 246.74,227.01 247.51,226.52 248.29,227.45 249.06,227.04 249.83,227.89 250.6,227.88 251.5,228.48 252.4,230.36 253.3,231" fill="none" stroke="#111" stroke-width="1.2" stroke-linejoin="round"/>
<polyline points="164.7,257.2 165.44,256.96 166.17,256.82 166.91,257.33 167.65,256.41 168.38,257.28 169.12,256.35 169.85,256.24 170.59,256.15 171.33,256.92 172.06,256.12 172.8,256.75 173.53,255.91 174.26,256.97 174.99,256.18 175.72,256.9 176.45,257.01 177.18,256.36 177.91,257.13 178.64,257.4 179.37,256.94 180.1,257.36 180.82,257.58 181.54,257.01 182.26,257.82 182.98,257.12 183.7,257.7 184.42,257.16 185.14,257.94 185.86,257.42 186.58,257.38 187.3,257.99 188.02,258.4 188.74,257.85 189.46,258.82 190.18,258.24 190.9,259.06 191.62,258.8 192.34,259.58 193.06,259.08 193.78,260.07 194.5,259.61 195.29,259.63 196.07,260.75 196.86,260.17 197.64,261.2 198.43,260.58 199.21,261.48 200,260.88 200.72,260.72 201.44,260.7 202.16,261.01 202.88,260.21 203.6,260.5 204.5,258.44 205.4,256.73 206.3,255.63 207.2,250.41 208.1,246.58 209,241.49 209.9,238.47 210.8,234.13 211.7,230.84 212.6,229.61 213.5,227.11 214.4,225.78 215.12,223.84 215.84,223.22 216.56,221.48 217.28,220.84 218,218.74 218.74,218.47 219.48,217.04 220.22,216.82 220.96,215.18 221.7,215.07 222.42,214.85 223.14,213.76 223.86,214.07 224.58,213.94 225.3,212.92 226.07,213.57 226.84,213.98 227.61,213.39 228.39,213.5 229.16,214.23 229.93,213.7 230.7,214.69 231.47,215.11 232.24,214.64 233.01,214.83 233.79,215.94 234.56,215.66 235.33,216.47 236.1,216.17 236.87,216.81 237.64,217.98 238.41,217.71 239.19,218.71 239.96,219.46 240.73,220.02 241.5,219.93 242.29,220.64 243.07,221 243.86,220.38 244.64,221.22 245.43,221.65 246.21,220.92 247,221.22 247.77,222.21 248.54,222.14 249.31,222.42 250.09,223.29 250.86,223.08 251.63,223.95 252.4,224.1" fill="none" stroke="#d4303e" stroke-width="1.2" stroke-linejoin="round"/>
<line x1="217.3" y1="199.9" x2="226.4" y2="199.9" stroke="#000" stroke-width="0.9"/>
<line x1="217.3" y1="205.6" x2="226.4" y2="205.6" stroke="#d85060" stroke-width="0.9"/>
<rect x="162.5" y="193" width="93.3" height="73.9" fill="none" stroke="#111" stroke-width="1.4"/>
<line x1="285" y1="254.5" x2="288.3" y2="254.5" stroke="#111" stroke-width="1.0"/>
<line x1="285" y1="240.6" x2="288.3" y2="240.6" stroke="#111" stroke-width="1.0"/>
<line x1="285" y1="226.7" x2="288.3" y2="226.7" stroke="#111" stroke-width="1.0"/>
<line x1="285" y1="212.8" x2="288.3" y2="212.8" stroke="#111" stroke-width="1.0"/>
<line x1="285" y1="198.9" x2="288.3" y2="198.9" stroke="#111" stroke-width="1.0"/>
<line x1="296.7" y1="266.9" x2="296.7" y2="269.9" stroke="#111" stroke-width="1.0"/>
<line x1="316.15" y1="266.9" x2="316.15" y2="269.9" stroke="#111" stroke-width="1.0"/>
<line x1="335.6" y1="266.9" x2="335.6" y2="269.9" stroke="#111" stroke-width="1.0"/>
<line x1="355.05" y1="266.9" x2="355.05" y2="269.9" stroke="#111" stroke-width="1.0"/>
<line x1="374.5" y1="266.9" x2="374.5" y2="269.9" stroke="#111" stroke-width="1.0"/>
<polyline points="291.6,246.9 292.32,245.37 293.04,245.7 293.76,243.83 294.48,244.02 295.2,241.78 296.1,242.91 297,240.79 297.9,240.46 298.6,241.6 299.3,239.47 300,240.22 300.7,239.64 301.6,236.45 302.5,236.66 303.4,234.36 304.3,231.74 305.2,231.51 306.1,232.09 307,229.52 307.9,230.11 308.8,227.3 309.7,227.59 310.6,225.56 311.5,226.1 312.4,227.7 313.3,229.06 314.2,228.58 315.1,231.88 316,231.87 316.9,235.12 317.8,236.97 318.7,237.16 319.6,240.22 320.5,241.06 321.4,246.14 322.1,247.96 322.8,248.22 323.5,251.32 324.2,253.16 324.92,253.86 325.64,257.38 326.36,257.32 327.08,260.49 327.8,260.83 328.52,262.45 329.24,261.94 329.96,263.72 330.68,264.14 331.4,262.5 332.12,262.67 332.84,263.82 333.56,262.45 334.28,263.24 335,263 335.72,261.89 336.44,263.29 337.16,261.55 337.88,262.82 338.6,260.62 339.32,261.78 340.04,259.51 340.76,260.29 341.48,258.36 342.2,259.09 343.1,258.14 344,255.8 344.9,254.94 345.6,254.28 346.3,251.58 347,251.56 347.7,248.44 348.6,247.28 349.5,243.99 350.4,239.79 351.3,238.43 352.2,235.57 353.1,230.85 354,230.89 354.9,228.18 355.8,227.97 356.7,225.98 357.6,226.38 358.5,223.82 359.22,224.13 359.94,225.23 360.66,224.35 361.38,225.44 362.1,224.52 362.82,226.41 363.54,227.25 364.26,225.99 364.98,228.47 365.7,229.01 366.42,228.86 367.14,230.92 367.86,230.68 368.58,231.67 369.3,234.78 370.04,233.91 370.78,236.33 371.52,235.7 372.26,236.74 373,238.6 373.72,240.03 374.44,238.81 375.16,241.31 375.88,241.03 376.6,242.22 377.5,244.52 378.4,244.4 379.3,246.3" fill="none" stroke="#111" stroke-width="1.2" stroke-linejoin="round"/>
<polyline points="291.6,239.1 292.32,237.41 293.04,236.16 293.76,236.3 294.48,233.71 295.2,234.85 295.92,233.27 296.64,230.51 297.36,230.77 298.08,228.23 298.8,227.04 299.54,227.37 300.28,224.5 301.02,224.91 301.76,222.76 302.5,222.56 303.22,220.38 303.94,219.6 304.66,218.22 305.38,219.14 306.1,216.55 307,216.69 307.9,214 308.8,215.18 309.7,217.86 310.6,219.03 311.5,217.13 312.4,217.75 313.3,215.49 314.02,217.96 314.74,218.41 315.46,219.18 316.18,220.69 316.9,221.72 317.8,226.33 318.7,227.72 319.6,231.97 320.9,223.53 321.67,229.7 322.43,233.97 323.2,236.73 323.9,237.91 324.6,238.61 325.3,238.99 326,237.03 326.72,237.1 327.44,238.11 328.16,236.45 328.88,237.72 329.6,236.94 330.32,234.65 331.04,235.72 331.76,232.65 332.48,233.97 333.2,231.54 334.1,230.03 335,231.1 335.9,228.74 336.8,231.26 337.7,231.55 338.6,231.16 339.32,232.44 340.04,233.13 340.76,235.07 341.48,234.4 342.2,237.58 342.92,237.57 343.64,235.9 344.36,236.16 345.08,237.64 345.8,238.48 346.5,235.1 347.2,234.94 347.9,231.39 348.6,231.67 349.5,227.91 350.4,226.91 351.3,222.73 352.2,220.32 353.1,219.19 353.82,217.29 354.54,217.75 355.26,216.25 355.98,216.68 356.7,216.23 357.42,216.16 358.14,214.15 358.86,214.92 359.58,213.22 360.3,214.2 361.2,213.73 362.1,214.79 363,215.56 363.9,216.64 364.8,214.28 365.7,215.13 366.6,218.43 367.5,219.26 368.4,223.99 369.1,222.67 369.8,224.91 370.5,223.71 371.2,226.19 371.92,227.68 372.64,226.58 373.36,229.25 374.08,229.03 374.8,231.98 375.52,231.04 376.24,233.64 376.96,232.88 377.68,235.02 378.4,235.5" fill="none" stroke="#d4303e" stroke-width="1.2" stroke-linejoin="round"/>
<line x1="343.1" y1="199.9" x2="352.2" y2="199.9" stroke="#000" stroke-width="0.9"/>
<line x1="343.1" y1="205.6" x2="352.2" y2="205.6" stroke="#d85060" stroke-width="0.9"/>
<rect x="288.3" y="193" width="93.4" height="73.9" fill="none" stroke="#111" stroke-width="1.4"/>
<line x1="412.3" y1="258.2" x2="415.6" y2="258.2" stroke="#111" stroke-width="1.0"/>
<line x1="412.3" y1="243.15" x2="415.6" y2="243.15" stroke="#111" stroke-width="1.0"/>
<line x1="412.3" y1="228.1" x2="415.6" y2="228.1" stroke="#111" stroke-width="1.0"/>
<line x1="412.3" y1="213.05" x2="415.6" y2="213.05" stroke="#111" stroke-width="1.0"/>
<line x1="412.3" y1="198" x2="415.6" y2="198" stroke="#111" stroke-width="1.0"/>
<line x1="429.6" y1="266.9" x2="429.6" y2="269.9" stroke="#111" stroke-width="1.0"/>
<line x1="448.68" y1="266.9" x2="448.68" y2="269.9" stroke="#111" stroke-width="1.0"/>
<line x1="467.76" y1="266.9" x2="467.76" y2="269.9" stroke="#111" stroke-width="1.0"/>
<line x1="486.84" y1="266.9" x2="486.84" y2="269.9" stroke="#111" stroke-width="1.0"/>
<line x1="505.92" y1="266.9" x2="505.92" y2="269.9" stroke="#111" stroke-width="1.0"/>
<polyline points="418.7,259.9 419.6,260.71 420.5,261.68 421.4,262.89 422.3,260.34 423.2,261.9 423.92,259.11 424.64,260.25 425.36,258.13 426.08,259.63 426.8,257.66 427.54,257.98 428.28,258.18 429.02,255.43 429.76,256.44 430.5,254.9 431.22,253.84 431.94,253.88 432.66,254.73 433.38,252.68 434.1,251.54 434.82,253.02 435.54,251.54 436.26,252.94 436.98,251.49 437.7,252.51 438.42,251.12 439.14,252.98 439.86,253.29 440.58,251.98 441.3,253.13 442.02,254.07 442.74,252.57 443.46,253.75 444.18,254.41 444.9,252.66 445.8,253.83 446.7,252.34 447.6,249.74 448.5,254.3 449.4,255 450.3,259.58 451,256.31 451.7,254.21 452.4,252.11 453.1,249.73 454,248.99 454.9,245.58 455.8,244.6 456.7,240.59 457.6,239.33 458.5,235.8 459.4,236 460.3,235.53 461.2,232.81 461.93,234.07 462.67,233.04 463.4,230.07 464.17,231.23 464.93,234.38 465.7,233.55 466.6,238.06 467.5,239.67 468.4,244.61 469.3,247.21 470.2,247.87 471.1,249.85 472,250.85 472.9,254.19 473.8,253.38 474.54,255.29 475.28,253.93 476.02,255.6 476.76,254.76 477.5,256.65 478.22,255.3 478.94,255.36 479.66,253.37 480.38,253.81 481.1,253.38 481.82,251.95 482.54,251.71 483.26,251.24 483.98,252.89 484.7,251.29 485.42,251.62 486.14,253.91 486.86,252.64 487.58,254.81 488.3,253.48 489.04,255.59 489.78,254.3 490.52,255.87 491.26,254.1 492,254.61 492.7,256.25 493.4,255.67 494.1,255.18 494.8,257.91 495.5,256.09 496.24,258.29 496.98,256.74 497.72,258.81 498.46,257.48 499.2,260.21 499.92,257.95 500.64,260.41 501.36,260.49 502.08,258.19 502.8,258.23 503.7,261.4 504.6,260.26 505.5,261.7" fill="none" stroke="#111" stroke-width="1.2" stroke-linejoin="round"/>
<polyline points="418.7,257.2 419.45,256.26 420.2,257.66 420.95,255.1 421.7,256.77 422.45,255.11 423.2,255.81 423.92,253.88 424.64,254.91 425.36,252.65 426.08,254.36 426.8,252 427.54,253.22 428.28,250.75 429.02,251.64 429.76,248.62 430.5,249.88 431.22,249.37 431.94,247.14 432.66,249.09 433.38,246.53 434.1,247.8 435,245.54 435.9,245.28 436.8,242.63 437.7,245.23 438.6,244.77 439.5,245.32 440.4,246.25 441.3,244.56 442.2,245.79 442.92,244.14 443.64,246.74 444.36,245.52 445.08,247.34 445.8,246.62 446.7,245.71 447.6,247.59 448.5,245.08 449.4,248.28 450.3,248.1 451,248.12 451.7,246.15 452.4,242.3 453.1,242.27 454,237.71 454.9,235.71 455.8,230.55 456.7,228.66 457.6,222.46 458.5,219.7 459.4,218.81 460.3,214.87 461.2,213.69 461.93,212.6 462.67,212.41 463.4,214.65 464.3,213.48 465.2,214.94 465.97,219.24 466.73,219.92 467.5,224.8 468.4,226.94 469.3,231.37 470.2,235.79 471.1,238.27 472,239.41 472.9,243.13 473.6,244.73 474.3,243.86 475,246.45 475.7,245.67 476.42,245.7 477.14,247.54 477.86,246.27 478.58,248.32 479.3,246.41 480.02,247.52 480.74,246.14 481.46,247.26 482.18,246.03 482.9,246.9 483.62,247.65 484.34,246.05 485.06,247.42 485.78,245.78 486.5,248.02 487.22,246.26 487.94,248.04 488.66,246.96 489.38,248.97 490.1,246.81 490.82,249.22 491.54,247.65 492.26,249.74 492.98,248.77 493.7,250.52 494.42,251.05 495.14,251.51 495.86,249.68 496.58,250.07 497.3,250.54 498.04,253.09 498.78,252.07 499.52,254.11 500.26,254.57 501,253.7 501.72,256.3 502.44,256.48 503.16,255.59 503.88,257.93 504.6,257.2" fill="none" stroke="#d4303e" stroke-width="1.2" stroke-linejoin="round"/>
<line x1="470.4" y1="199.9" x2="479.5" y2="199.9" stroke="#000" stroke-width="0.9"/>
<line x1="470.4" y1="205.6" x2="479.5" y2="205.6" stroke="#d85060" stroke-width="0.9"/>
<rect x="415.6" y="193" width="93.5" height="73.9" fill="none" stroke="#111" stroke-width="1.4"/>
<line x1="144.6" y1="330.1" x2="210.4" y2="330.1" stroke="#333" stroke-width="0.9"/>
<line x1="144.8" y1="328" x2="144.8" y2="332.2" stroke="#333" stroke-width="0.9"/>
<line x1="210.2" y1="328" x2="210.2" y2="332.2" stroke="#333" stroke-width="0.9"/>
<line x1="177" y1="335.2" x2="231.2" y2="335.2" stroke="#2a3f8f" stroke-width="0.8"/>
<path d="M179.5,334.5 L180.3,335.2 L179.5,335.9" fill="none" stroke="#2a3f8f" stroke-width="0.45"/>
<path d="M182.5,334.5 L183.3,335.2 L182.5,335.9" fill="none" stroke="#2a3f8f" stroke-width="0.45"/>
<path d="M185.5,334.5 L186.3,335.2 L185.5,335.9" fill="none" stroke="#2a3f8f" stroke-width="0.45"/>
<path d="M188.5,334.5 L189.3,335.2 L188.5,335.9" fill="none" stroke="#2a3f8f" stroke-width="0.45"/>
<path d="M191.5,334.5 L192.3,335.2 L191.5,335.9" fill="none" stroke="#2a3f8f" stroke-width="0.45"/>
<path d="M194.5,334.5 L195.3,335.2 L194.5,335.9" fill="none" stroke="#2a3f8f" stroke-width="0.45"/>
<path d="M197.5,334.5 L198.3,335.2 L197.5,335.9" fill="none" stroke="#2a3f8f" stroke-width="0.45"/>
<path d="M200.5,334.5 L201.3,335.2 L200.5,335.9" fill="none" stroke="#2a3f8f" stroke-width="0.45"/>
<path d="M203.5,334.5 L204.3,335.2 L203.5,335.9" fill="none" stroke="#2a3f8f" stroke-width="0.45"/>
<path d="M206.5,334.5 L207.3,335.2 L206.5,335.9" fill="none" stroke="#2a3f8f" stroke-width="0.45"/>
<path d="M209.5,334.5 L210.3,335.2 L209.5,335.9" fill="none" stroke="#2a3f8f" stroke-width="0.45"/>
<path d="M212.5,334.5 L213.3,335.2 L212.5,335.9" fill="none" stroke="#2a3f8f" stroke-width="0.45"/>
<path d="M215.5,334.5 L216.3,335.2 L215.5,335.9" fill="none" stroke="#2a3f8f" stroke-width="0.45"/>
<path d="M218.5,334.5 L219.3,335.2 L218.5,335.9" fill="none" stroke="#2a3f8f" stroke-width="0.45"/>
<path d="M221.5,334.5 L222.3,335.2 L221.5,335.9" fill="none" stroke="#2a3f8f" stroke-width="0.45"/>
<path d="M224.5,334.5 L225.3,335.2 L224.5,335.9" fill="none" stroke="#2a3f8f" stroke-width="0.45"/>
<path d="M227.5,334.5 L228.3,335.2 L227.5,335.9" fill="none" stroke="#2a3f8f" stroke-width="0.45"/>
<rect x="177" y="333.7" width="0.9" height="3" fill="#2a3f8f"/>
<rect x="183.6" y="333.7" width="1" height="3" fill="#2a3f8f"/>
<rect x="188.3" y="333.4" width="2.6" height="3.6" fill="#2a3f8f"/>
<rect x="196" y="333.9" width="0.8" height="2.6" fill="#2a3f8f"/>
<rect x="201.6" y="333.7" width="0.9" height="3" fill="#2a3f8f"/>
<rect x="209" y="333.7" width="1" height="3" fill="#2a3f8f"/>
<rect x="219.5" y="333.7" width="11.7" height="3" fill="#2a3f8f"/>
<rect x="230.3" y="333.5" width="1.2" height="3.4" fill="#2a3f8f"/>
<rect x="144.8" y="356.78" width="0.6" height="0.72" fill="#c86a66"/><rect x="148" y="356.78" width="0.6" height="0.72" fill="#c86a66"/><rect x="148.8" y="356.71" width="0.6" height="0.79" fill="#c86a66"/><rect x="150.4" y="357" width="0.6" height="0.5" fill="#c86a66"/><rect x="151.2" y="356.38" width="0.6" height="1.12" fill="#c86a66"/><rect x="152.8" y="356.48" width="0.6" height="1.02" fill="#c86a66"/><rect x="153.6" y="356.64" width="0.6" height="0.86" fill="#c86a66"/><rect x="154.4" y="357.2" width="0.6" height="0.3" fill="#c86a66"/><rect x="156" y="357.01" width="0.6" height="0.49" fill="#c86a66"/><rect x="158.4" y="356.33" width="0.6" height="1.17" fill="#c86a66"/><rect x="160.8" y="356.35" width="0.6" height="1.15" fill="#c86a66"/><rect x="164" y="356.87" width="0.6" height="0.63" fill="#c86a66"/><rect x="164.8" y="357.07" width="0.6" height="0.43" fill="#c86a66"/><rect x="165.6" y="356.93" width="0.6" height="0.57" fill="#c86a66"/><rect x="167.2" y="356.59" width="0.6" height="0.91" fill="#c86a66"/><rect x="168" y="356.92" width="0.6" height="0.58" fill="#c86a66"/><rect x="169.6" y="356.92" width="0.6" height="0.58" fill="#c86a66"/><rect x="170.4" y="356.57" width="0.6" height="0.93" fill="#c86a66"/><rect x="171.2" y="356.32" width="0.6" height="1.18" fill="#c86a66"/><rect x="172" y="356.53" width="0.6" height="0.97" fill="#c86a66"/><rect x="173.6" y="356.49" width="0.6" height="1.01" fill="#c86a66"/><rect x="174.4" y="356.68" width="0.6" height="0.82" fill="#c86a66"/><rect x="175.2" y="357.16" width="0.6" height="0.34" fill="#c86a66"/><rect x="176" y="356.34" width="0.6" height="1.16" fill="#c86a66"/><rect x="176.8" y="356.52" width="0.6" height="0.98" fill="#c86a66"/><rect x="179.2" y="356.88" width="0.6" height="0.62" fill="#c86a66"/><rect x="181.6" y="356.53" width="0.6" height="0.97" fill="#c86a66"/><rect x="184" y="356.35" width="0.6" height="1.15" fill="#c86a66"/><rect x="184.8" y="356.89" width="0.6" height="0.61" fill="#c86a66"/><rect x="187.2" y="356.37" width="0.6" height="1.13" fill="#c86a66"/><rect x="188.8" y="356.91" width="0.6" height="0.59" fill="#c86a66"/><rect x="189.6" y="357.13" width="0.6" height="0.37" fill="#c86a66"/><rect x="190.4" y="356.58" width="0.6" height="0.92" fill="#c86a66"/><rect x="192" y="357.16" width="0.6" height="0.34" fill="#c86a66"/><rect x="194.4" y="356.99" width="0.6" height="0.51" fill="#c86a66"/><rect x="196.8" y="356.82" width="0.6" height="0.68" fill="#c86a66"/><rect x="197.6" y="356.38" width="0.6" height="1.12" fill="#c86a66"/><rect x="198.4" y="356.76" width="0.6" height="0.74" fill="#c86a66"/><rect x="200" y="356.54" width="0.6" height="0.96" fill="#c86a66"/><rect x="203.2" y="356.81" width="0.6" height="0.69" fill="#c86a66"/><rect x="204" y="356.44" width="0.6" height="1.06" fill="#c86a66"/><rect x="204.8" y="356.79" width="0.6" height="0.71" fill="#c86a66"/><rect x="208" y="356.76" width="0.6" height="0.74" fill="#c86a66"/><rect x="209.6" y="356.94" width="0.6" height="0.56" fill="#c86a66"/><rect x="210.4" y="357.07" width="0.6" height="0.43" fill="#c86a66"/>
<rect x="69.7" y="337.3" width="1.4" height="20.2" fill="#d86464"/><rect x="73.2" y="337.3" width="3.1" height="20.2" fill="#d86464"/><rect x="77" y="337.3" width="2.8" height="20.2" fill="#eaaaaa"/><rect x="81.2" y="337.3" width="1.7" height="20.2" fill="#b02626"/><rect x="87.7" y="337.3" width="2.1" height="20.2" fill="#d86464"/><rect x="94.3" y="337.3" width="2.1" height="20.2" fill="#b02626"/><rect x="97.8" y="337.3" width="1" height="20.2" fill="#d86464"/><rect x="101.6" y="337.3" width="1.4" height="20.2" fill="#eaaaaa"/><rect x="105.7" y="337.3" width="1.4" height="20.2" fill="#b02626"/><rect x="107.8" y="337.3" width="2.2" height="20.2" fill="#d86464"/><rect x="111.9" y="337.3" width="1.8" height="20.2" fill="#d86464"/><rect x="114.1" y="343.76" width="1.8" height="13.74" fill="#d83434"/><rect x="120.6" y="337.3" width="4.1" height="20.2" fill="#b02626"/><rect x="122" y="347.4" width="2" height="10.1" fill="#d83434"/><rect x="127.2" y="341.34" width="2.9" height="16.16" fill="#eaaaaa"/><rect x="133.8" y="337.3" width="2.2" height="20.2" fill="#d86464"/><rect x="137.8" y="342.35" width="2.2" height="15.15" fill="#eaaaaa"/><rect x="154" y="343.36" width="0.6" height="14.14" fill="#d86464"/><rect x="159.8" y="346.79" width="1.6" height="10.71" fill="#b02626"/><rect x="163.7" y="353.06" width="1.5" height="4.44" fill="#d86464"/><rect x="174.5" y="352.05" width="1.8" height="5.45" fill="#eaaaaa"/><rect x="182" y="350.03" width="0.6" height="7.47" fill="#d86464"/><rect x="187.8" y="352.85" width="0.6" height="4.65" fill="#eaaaaa"/><rect x="190.2" y="337.3" width="1" height="20.2" fill="#b02626"/><rect x="192" y="350.03" width="0.6" height="7.47" fill="#d86464"/><rect x="197.5" y="353.06" width="1.5" height="4.44" fill="#eaaaaa"/><rect x="205" y="353.46" width="0.6" height="4.04" fill="#d86464"/><rect x="207.3" y="355.48" width="0.6" height="2.02" fill="#d86464"/><rect x="210.9" y="337.3" width="2.4" height="20.2" fill="#d86464"/><rect x="213.8" y="337.3" width="1.4" height="20.2" fill="#eaaaaa"/><rect x="217.1" y="337.3" width="1.5" height="20.2" fill="#b02626"/><rect x="219.1" y="337.3" width="1.9" height="20.2" fill="#d86464"/><rect x="221.5" y="337.3" width="1.9" height="20.2" fill="#d83434"/><rect x="224.3" y="337.3" width="1.5" height="20.2" fill="#d86464"/><rect x="226.3" y="337.3" width="1.4" height="20.2" fill="#b02626"/><rect x="228.7" y="337.3" width="1.9" height="20.2" fill="#eaaaaa"/><rect x="231.6" y="337.3" width="1.4" height="20.2" fill="#d86464"/><rect x="234" y="337.3" width="2.8" height="20.2" fill="#eaaaaa"/><rect x="237.8" y="337.3" width="1.5" height="20.2" fill="#b02626"/><rect x="242.1" y="337.3" width="3.4" height="20.2" fill="#d83434"/><rect x="247" y="337.3" width="1.4" height="20.2" fill="#b02626"/><rect x="248.9" y="337.3" width="6.7" height="20.2" fill="#e55c4c"/>
<rect x="138" y="358.6" width="72.4" height="3" fill="#a9c1e3"/>
<rect x="130.1" y="382.01" width="0.6" height="0.69" fill="#c86a66"/><rect x="130.9" y="381.41" width="0.6" height="1.29" fill="#c86a66"/><rect x="131.7" y="381.26" width="0.6" height="1.44" fill="#c86a66"/><rect x="132.5" y="381.24" width="0.6" height="1.46" fill="#c86a66"/><rect x="133.3" y="381.2" width="0.6" height="1.5" fill="#c86a66"/><rect x="134.9" y="381.59" width="0.6" height="1.11" fill="#c86a66"/><rect x="136.5" y="381.57" width="0.6" height="1.13" fill="#c86a66"/><rect x="138.1" y="381.19" width="0.6" height="1.51" fill="#c86a66"/><rect x="140.5" y="382.26" width="0.6" height="0.44" fill="#c86a66"/><rect x="142.9" y="382.26" width="0.6" height="0.44" fill="#c86a66"/><rect x="143.7" y="381.45" width="0.6" height="1.25" fill="#c86a66"/><rect x="144.5" y="380.97" width="0.6" height="1.73" fill="#c86a66"/><rect x="146.1" y="381.42" width="0.6" height="1.28" fill="#c86a66"/><rect x="146.9" y="381" width="0.6" height="1.7" fill="#c86a66"/><rect x="148.5" y="381.43" width="0.6" height="1.27" fill="#c86a66"/><rect x="151.7" y="381.86" width="0.6" height="0.84" fill="#c86a66"/><rect x="153.3" y="381.52" width="0.6" height="1.18" fill="#c86a66"/><rect x="154.1" y="381.08" width="0.6" height="1.62" fill="#c86a66"/><rect x="154.9" y="382.22" width="0.6" height="0.48" fill="#c86a66"/><rect x="156.5" y="382.11" width="0.6" height="0.59" fill="#c86a66"/><rect x="157.3" y="382.19" width="0.6" height="0.51" fill="#c86a66"/><rect x="158.1" y="381.1" width="0.6" height="1.6" fill="#c86a66"/><rect x="159.7" y="381.23" width="0.6" height="1.47" fill="#c86a66"/><rect x="160.5" y="381.9" width="0.6" height="0.8" fill="#c86a66"/><rect x="162.9" y="381.83" width="0.6" height="0.87" fill="#c86a66"/><rect x="163.7" y="382.21" width="0.6" height="0.49" fill="#c86a66"/><rect x="165.3" y="381.77" width="0.6" height="0.93" fill="#c86a66"/><rect x="166.9" y="380.93" width="0.6" height="1.77" fill="#c86a66"/><rect x="167.7" y="380.93" width="0.6" height="1.77" fill="#c86a66"/><rect x="170.9" y="381.15" width="0.6" height="1.55" fill="#c86a66"/><rect x="172.5" y="381.69" width="0.6" height="1.01" fill="#c86a66"/><rect x="174.1" y="382.27" width="0.6" height="0.43" fill="#c86a66"/><rect x="175.7" y="381.67" width="0.6" height="1.03" fill="#c86a66"/><rect x="177.3" y="382.37" width="0.6" height="0.33" fill="#c86a66"/><rect x="178.1" y="381.52" width="0.6" height="1.18" fill="#c86a66"/><rect x="178.9" y="382.02" width="0.6" height="0.68" fill="#c86a66"/><rect x="179.7" y="381.01" width="0.6" height="1.69" fill="#c86a66"/><rect x="180.5" y="381.78" width="0.6" height="0.92" fill="#c86a66"/><rect x="182.9" y="381.69" width="0.6" height="1.01" fill="#c86a66"/><rect x="183.7" y="382.19" width="0.6" height="0.51" fill="#c86a66"/><rect x="184.5" y="381.94" width="0.6" height="0.76" fill="#c86a66"/><rect x="186.1" y="381.41" width="0.6" height="1.29" fill="#c86a66"/><rect x="188.5" y="381.5" width="0.6" height="1.2" fill="#c86a66"/><rect x="189.3" y="381.8" width="0.6" height="0.9" fill="#c86a66"/><rect x="190.1" y="381.21" width="0.6" height="1.49" fill="#c86a66"/><rect x="191.7" y="382.39" width="0.6" height="0.31" fill="#c86a66"/><rect x="192.5" y="382.31" width="0.6" height="0.39" fill="#c86a66"/><rect x="193.3" y="381.24" width="0.6" height="1.46" fill="#c86a66"/><rect x="194.1" y="381.32" width="0.6" height="1.38" fill="#c86a66"/><rect x="194.9" y="380.99" width="0.6" height="1.71" fill="#c86a66"/><rect x="196.5" y="382.11" width="0.6" height="0.59" fill="#c86a66"/><rect x="198.9" y="381.23" width="0.6" height="1.47" fill="#c86a66"/><rect x="200.5" y="381.7" width="0.6" height="1" fill="#c86a66"/><rect x="201.3" y="381.86" width="0.6" height="0.84" fill="#c86a66"/><rect x="202.1" y="381.46" width="0.6" height="1.24" fill="#c86a66"/><rect x="203.7" y="381.46" width="0.6" height="1.24" fill="#c86a66"/><rect x="204.5" y="382.24" width="0.6" height="0.46" fill="#c86a66"/><rect x="206.1" y="381.05" width="0.6" height="1.65" fill="#c86a66"/><rect x="208.5" y="381.15" width="0.6" height="1.55" fill="#c86a66"/><rect x="209.3" y="381.47" width="0.6" height="1.23" fill="#c86a66"/><rect x="212.5" y="381.36" width="0.6" height="1.34" fill="#c86a66"/><rect x="214.1" y="380.98" width="0.6" height="1.72" fill="#c86a66"/>
<rect x="70.1" y="363.2" width="1.4" height="19.5" fill="#d86464"/><rect x="73.2" y="362.6" width="2.4" height="20.1" fill="#d86464"/><rect x="75.6" y="368.03" width="1.1" height="14.67" fill="#d86464"/><rect x="77" y="373.05" width="1" height="9.65" fill="#d86464"/><rect x="81.2" y="365.01" width="1.7" height="17.69" fill="#d86464"/><rect x="81.6" y="376.67" width="1" height="6.03" fill="#b02626"/><rect x="88.1" y="368.83" width="1.4" height="13.87" fill="#d86464"/><rect x="91.9" y="362.6" width="2.4" height="20.1" fill="#d83434"/><rect x="94.7" y="362.6" width="3.8" height="20.1" fill="#b02626"/><rect x="96" y="362.6" width="2.5" height="20.1" fill="#d86464"/><rect x="98.5" y="370.64" width="2" height="12.06" fill="#eaaaaa"/><rect x="100.5" y="363" width="2.1" height="19.7" fill="#d86464"/><rect x="102.6" y="363.61" width="0.5" height="19.09" fill="#eaaaaa"/><rect x="105.3" y="362.6" width="1.8" height="20.1" fill="#b02626"/><rect x="107.8" y="362.6" width="2.2" height="20.1" fill="#d86464"/><rect x="111.9" y="362.6" width="1.8" height="20.1" fill="#b02626"/><rect x="114.1" y="365.62" width="1.8" height="17.08" fill="#d86464"/><rect x="120.6" y="363.2" width="2.6" height="19.5" fill="#b02626"/><rect x="121" y="374.66" width="2" height="8.04" fill="#d83434"/><rect x="124.7" y="379.08" width="1.4" height="3.62" fill="#b02626"/><rect x="126.9" y="372.45" width="1.4" height="10.25" fill="#eaaaaa"/><rect x="140.6" y="377.68" width="0.6" height="5.02" fill="#d86464"/><rect x="190" y="378.28" width="1.2" height="4.42" fill="#b02626"/><rect x="198.3" y="374.66" width="0.7" height="8.04" fill="#d86464"/><rect x="203.7" y="378.28" width="0.6" height="4.42" fill="#d86464"/><rect x="210.9" y="376.87" width="1.9" height="5.83" fill="#eaaaaa"/><rect x="215.2" y="378.28" width="1" height="4.42" fill="#b02626"/><rect x="217.1" y="373.66" width="1" height="9.04" fill="#d86464"/><rect x="220" y="363.4" width="2" height="19.3" fill="#d86464"/><rect x="222.4" y="370.64" width="1.5" height="12.06" fill="#d83434"/><rect x="224.8" y="367.62" width="1.5" height="15.07" fill="#d86464"/><rect x="226.8" y="363.4" width="1.9" height="19.3" fill="#b02626"/><rect x="229.6" y="377.27" width="1.5" height="5.43" fill="#d86464"/><rect x="231.6" y="366.62" width="1.4" height="16.08" fill="#eaaaaa"/><rect x="233.5" y="363" width="1.4" height="19.7" fill="#b02626"/><rect x="235.9" y="363.4" width="0.9" height="19.3" fill="#b02626"/><rect x="237.8" y="367.22" width="1" height="15.48" fill="#d86464"/><rect x="242.1" y="362.6" width="4.4" height="20.1" fill="#e55c4c"/><rect x="247" y="362.6" width="1.4" height="20.1" fill="#b02626"/><rect x="248.9" y="364.61" width="1.4" height="18.09" fill="#d86464"/><rect x="250.3" y="362.6" width="5.3" height="20.1" fill="#e55c4c"/>
<rect x="123.3" y="384.2" width="96.4" height="2.6" fill="#a9c1e3"/>
<path d="M70.6,403.8 L70.6,403.45 L71.2,403.51 L71.8,403.53 L72.4,402.94 L73,403.16 L73.6,403.28 L74.2,403.45 L74.8,403.52 L75.4,403.56 L76,403.3 L76.6,403.31 L77.2,403.39 L77.8,403.52 L78.4,403.3 L79,403.32 L79.6,403.21 L80.2,402.91 L80.8,403.46 L81.4,402.87 L82,403.41 L82.6,403.12 L83.2,402.89 L83.8,403.28 L84.4,403.45 L85,403.47 L85.6,403.01 L86.2,402.89 L86.8,403.39 L87.4,403.12 L88,403.48 L88.6,403.13 L89.2,403.36 L89.8,403.52 L90.4,403.31 L91,403.22 L91.6,402.79 L92.2,403.2 L92.8,402.97 L93.4,403.35 L94,403 L94.6,402.87 L95.2,403.37 L95.8,403.31 L96.4,403.12 L97,403 L97.6,403.42 L98.2,403.41 L98.8,403.18 L99.4,403.05 L100,402.62 L100.6,403.47 L101.2,403.11 L101.8,402.74 L102.4,401.82 L103,402.58 L103.6,401.86 L104.2,402.37 L104.8,402.3 L105.4,403.21 L106,402.88 L106.6,402.66 L107.2,402.8 L107.8,403.22 L108.4,402.78 L109,402.77 L109.6,402.37 L110.2,402.79 L110.8,403.01 L111.4,402.67 L112,402.24 L112.6,401.67 L113.2,402.73 L113.8,403.13 L114.4,402.07 L115,402.12 L115.6,402.87 L116.2,401.99 L116.8,403.22 L117.4,401.64 L118,401.58 L118.6,402.8 L119.2,402.2 L119.8,402.5 L120.4,401.58 L121,401.97 L121.6,401.64 L122.2,401.48 L122.8,402.4 L123.4,401.41 L124,402.52 L124.6,401.35 L125.2,401.12 L125.8,401.33 L126.4,402.29 L127,401.99 L127.6,401.19 L128.2,402.89 L128.8,402.42 L129.4,402.76 L130,402.38 L130.6,401.07 L131.2,402.3 L131.8,401.93 L132.4,400.46 L133,400.96 L133.6,400.72 L134.2,400.61 L134.8,400.68 L135.4,401.74 L136,400.55 L136.6,400.07 L137.2,402.37 L137.8,400.65 L138.4,401.3 L139,399.83 L139.6,402.41 L140.2,399.82 L140.8,400.49 L141.4,399.5 L142,400.35 L142.6,399.68 L143.2,399.98 L143.8,401.41 L144.4,401.23 L145,400.57 L145.6,399.74 L146.2,401.87 L146.8,400.93 L147.4,399.29 L148,401.52 L148.6,401.67 L149.2,400.99 L149.8,399.98 L150.4,398.75 L151,400.88 L151.6,399 L152.2,399.72 L152.8,397.65 L153.4,401.62 L154,400.28 L154.6,398.52 L155.2,397.84 L155.8,399.12 L156.4,397.44 L157,397.56 L157.6,398.53 L158.2,399.52 L158.8,397.59 L159.4,400.37 L160,399.43 L160.6,397.43 L161.2,396.64 L161.8,396.78 L162.4,400.73 L163,397.62 L163.6,398.25 L164.2,397.58 L164.8,399.75 L165.4,399.86 L166,398.23 L166.6,397.8 L167.2,400.73 L167.8,401.05 L168.4,399.24 L169,395.95 L169.6,391.63 L170.2,398.07 L170.8,395.65 L171.4,395.84 L172,398.73 L172.6,400.21 L173.2,399.48 L173.8,396.5 L174.4,394.51 L175,400.73 L175.6,395.85 L176.2,401.42 L176.8,399.27 L177.4,397.95 L178,397.38 L178.6,396.47 L179.2,397.76 L179.8,396.05 L180.4,395.91 L181,397.42 L181.6,397.25 L182.2,397.73 L182.8,399.17 L183.4,398.52 L184,399 L184.6,396.8 L185.2,400.58 L185.8,400.96 L186.4,396.42 L187,397.24 L187.6,395.56 L188.2,399.22 L188.8,396.64 L189.4,399.38 L190,396.49 L190.6,397.62 L191.2,401.47 L191.8,399.36 L192.4,398.81 L193,401.59 L193.6,400.98 L194.2,398.47 L194.8,396.98 L195.4,395.81 L196,400.72 L196.6,397.16 L197.2,397.49 L197.8,397.96 L198.4,400.14 L199,398.85 L199.6,401.36 L200.2,397.63 L200.8,399.7 L201.4,400.68 L202,399.25 L202.6,401.37 L203.2,399.55 L203.8,399.55 L204.4,400.13 L205,401.94 L205.6,402.87 L206.2,403.33 L206.8,402.29 L207.4,401.28 L208,400.01 L208.6,400.76 L209.2,401.19 L209.8,400.07 L210.4,402.14 L211,401.92 L211.6,400.59 L212.2,400.23 L212.8,401.67 L213.4,399.03 L214,401.72 L214.6,399.47 L215.2,401.06 L215.8,402.09 L216.4,399.23 L217,400.76 L217.6,400.56 L218.2,398.94 L218.8,401.64 L219.4,398.57 L220,400.35 L220.6,400.49 L221.2,400.05 L221.8,398.63 L222.4,400.46 L223,400.22 L223.6,401.38 L224.2,401.52 L224.8,402.1 L225.4,400 L226,399.53 L226.6,401.21 L227.2,400.4 L227.8,401.16 L228.4,400.8 L229,401.41 L229.6,401.64 L230.2,400.87 L230.8,402.8 L231.4,402.23 L232,401.93 L232.6,402.77 L233.2,402.94 L233.8,403.34 L234.4,402.8 L235,403.19 L235.6,402.92 L236.2,403.27 L236.8,403.04 L237.4,402.93 L238,402.92 L238.6,403.06 L239.2,402.99 L239.8,403.37 L240.4,403.42 L241,403.13 L241.6,402.95 L242.2,402.47 L242.8,403.25 L243.4,403.12 L244,403.08 L244.6,403.25 L245.2,403.46 L245.8,403.17 L246.4,403.47 L247,403.53 L247.6,403.21 L248.2,403.16 L248.8,403.11 L249.4,403.21 L250,403.25 L250.6,403.5 L251.2,403.24 L251.8,403.16 L252.4,402.92 L253,402.44 L253.6,402.95 L254.2,403.32 L254.8,403.23 L255.4,403 L256,403.38 L256.6,402.97 L257.2,402.99 L257.8,403.03 L258.4,403.49 L259,402.99 L259.6,403.31 L260,403.8 Z" fill="#27379a" stroke="#27379a" stroke-width="0.3"/>
<path d="M70.6,420.6 L70.6,420.17 L71.2,420.34 L71.8,420.41 L72.4,419.91 L73,420.09 L73.6,420.38 L74.2,419.99 L74.8,419.97 L75.4,420.26 L76,420.09 L76.6,420.03 L77.2,420.15 L77.8,420.33 L78.4,419.96 L79,420.11 L79.6,420.21 L80.2,420.2 L80.8,420.25 L81.4,419.38 L82,420.12 L82.6,420.35 L83.2,419.74 L83.8,419.95 L84.4,419.95 L85,420.02 L85.6,420.3 L86.2,420.34 L86.8,419.99 L87.4,420.04 L88,419.87 L88.6,419.91 L89.2,419.88 L89.8,420.3 L90.4,419.86 L91,420.12 L91.6,419.54 L92.2,419.76 L92.8,420.14 L93.4,420.29 L94,419.77 L94.6,419.68 L95.2,420.03 L95.8,419.82 L96.4,419.97 L97,419.42 L97.6,419.61 L98.2,419.93 L98.8,419.91 L99.4,420.22 L100,420.21 L100.6,420.27 L101.2,419.52 L101.8,419.59 L102.4,419.54 L103,420.03 L103.6,419.84 L104.2,419.35 L104.8,419.53 L105.4,419.31 L106,420.17 L106.6,420.02 L107.2,419.07 L107.8,420.19 L108.4,419.95 L109,419.44 L109.6,419.74 L110.2,419.47 L110.8,420.06 L111.4,419.25 L112,419.55 L112.6,419.11 L113.2,418.92 L113.8,419.14 L114.4,418.88 L115,419.67 L115.6,419.33 L116.2,419.14 L116.8,418.88 L117.4,420.05 L118,419.32 L118.6,419.41 L119.2,419.22 L119.8,419.1 L120.4,419.96 L121,418.4 L121.6,419.03 L122.2,418.27 L122.8,418.74 L123.4,419.37 L124,418.51 L124.6,418.52 L125.2,418.91 L125.8,419.79 L126.4,419.1 L127,419.38 L127.6,418.27 L128.2,416.55 L128.8,418.49 L129.4,418.27 L130,419.66 L130.6,418.32 L131.2,419.6 L131.8,418.51 L132.4,419.64 L133,418.75 L133.6,419.62 L134.2,417.88 L134.8,416.6 L135.4,419.23 L136,418.79 L136.6,418.87 L137.2,419.1 L137.8,416.2 L138.4,418.09 L139,417.69 L139.6,417.98 L140.2,418.43 L140.8,417.28 L141.4,417.52 L142,419.15 L142.6,413.54 L143.2,418.12 L143.8,416.54 L144.4,418.87 L145,417.75 L145.6,414.57 L146.2,414.78 L146.8,414.76 L147.4,414.18 L148,417.32 L148.6,415.77 L149.2,417.02 L149.8,416.67 L150.4,417.26 L151,415.33 L151.6,416.2 L152.2,416.34 L152.8,417.62 L153.4,417.46 L154,414.53 L154.6,414.63 L155.2,415.66 L155.8,413.6 L156.4,413.7 L157,414.88 L157.6,418.27 L158.2,415.23 L158.8,416.16 L159.4,414.81 L160,413.35 L160.6,414.56 L161.2,418.18 L161.8,417.93 L162.4,417.03 L163,412.2 L163.6,413.4 L164.2,411.55 L164.8,417.1 L165.4,415.37 L166,415.62 L166.6,416.63 L167.2,411.27 L167.8,417.91 L168.4,417.8 L169,411.03 L169.6,410.6 L170.2,415.68 L170.8,414.19 L171.4,415.95 L172,411.65 L172.6,412.81 L173.2,404.72 L173.8,416.21 L174.4,412.08 L175,416.6 L175.6,413.06 L176.2,415.84 L176.8,411.72 L177.4,410.26 L178,409.4 L178.6,413.24 L179.2,410.41 L179.8,413.44 L180.4,408.88 L181,409.23 L181.6,416.78 L182.2,409.36 L182.8,408.55 L183.4,412.55 L184,412.43 L184.6,408.28 L185.2,416.9 L185.8,411.76 L186.4,409.14 L187,415.97 L187.6,416.85 L188.2,409.12 L188.8,400.2 L189.4,415.21 L190,410.8 L190.6,409.93 L191.2,410.97 L191.8,408.92 L192.4,415.62 L193,407.5 L193.6,414.42 L194.2,415.53 L194.8,411.18 L195.4,408.16 L196,415.05 L196.6,408.65 L197.2,417.41 L197.8,417.05 L198.4,414.85 L199,413.5 L199.6,413.71 L200.2,415.2 L200.8,416.55 L201.4,411.15 L202,413.82 L202.6,412.48 L203.2,418.41 L203.8,416.07 L204.4,419.02 L205,417.36 L205.6,419.06 L206.2,420.15 L206.8,418.59 L207.4,419.52 L208,417.57 L208.6,418.05 L209.2,416.04 L209.8,417.41 L210.4,419.2 L211,418.1 L211.6,418.16 L212.2,417.16 L212.8,418.84 L213.4,415.88 L214,418.3 L214.6,417.31 L215.2,415.13 L215.8,415.06 L216.4,416.33 L217,416.29 L217.6,419.03 L218.2,417.33 L218.8,414.62 L219.4,414.52 L220,418.9 L220.6,419.05 L221.2,416.61 L221.8,416.6 L222.4,418.12 L223,418.55 L223.6,417.34 L224.2,418.86 L224.8,416.33 L225.4,417.9 L226,418.02 L226.6,417.62 L227.2,417.66 L227.8,418.41 L228.4,418.39 L229,419.9 L229.6,419.44 L230.2,420.34 L230.8,420.02 L231.4,420.3 L232,419.96 L232.6,419.82 L233.2,420.39 L233.8,419.97 L234.4,419.82 L235,419.94 L235.6,420.4 L236.2,420.1 L236.8,420.1 L237.4,420.19 L238,420.31 L238.6,420 L239.2,420.13 L239.8,420.22 L240.4,419.89 L241,420.27 L241.6,420.07 L242.2,420.38 L242.8,420.17 L243.4,419.95 L244,420.3 L244.6,419.94 L245.2,420.38 L245.8,419.96 L246.4,420.17 L247,420.4 L247.6,420.34 L248.2,419.95 L248.8,420.03 L249.4,420.3 L250,420.32 L250.6,419.94 L251.2,420.18 L251.8,420.23 L252.4,420.3 L253,420.09 L253.6,419.95 L254.2,420.22 L254.8,420.15 L255.4,420.2 L256,420.06 L256.6,420.19 L257.2,420.38 L257.8,420.07 L258.4,420.02 L259,420.41 L259.6,420.24 L260,420.6 Z" fill="#b01e24" stroke="#b01e24" stroke-width="0.3"/>
<line x1="311.6" y1="415.3" x2="315" y2="415.3" stroke="#222" stroke-width="0.9"/>
<line x1="311.6" y1="391.74" x2="315" y2="391.74" stroke="#222" stroke-width="0.9"/>
<line x1="311.6" y1="368.17" x2="315" y2="368.17" stroke="#222" stroke-width="0.9"/>
<line x1="311.6" y1="344.61" x2="315" y2="344.61" stroke="#222" stroke-width="0.9"/>
<line x1="336.4" y1="419.3" x2="336.4" y2="422.3" stroke="#222" stroke-width="0.9"/>
<line x1="364.4" y1="419.3" x2="364.4" y2="422.3" stroke="#222" stroke-width="0.9"/>
<line x1="386.7" y1="419.3" x2="386.7" y2="422.3" stroke="#222" stroke-width="0.9"/>
<line x1="413.4" y1="419.3" x2="413.4" y2="422.3" stroke="#222" stroke-width="0.9"/>
<line x1="439.9" y1="419.3" x2="439.9" y2="422.3" stroke="#222" stroke-width="0.9"/>
<polyline points="320,414.6 320.8,414.3 321.6,414.57 322.4,414.2 323.2,414.43 324,414.1 324.75,414.28 325.5,413.71 326.25,413.9 327,413.4 327.75,413.88 328.5,414.03 329.25,414.23 330,414.02 330.71,414.42 331.43,414.1 332.14,414.35 332.86,414.21 333.57,414.53 334.29,414.48 335,414.21 335.71,414.48 336.43,414.21 337.14,414.57 337.86,414.29 338.57,414.6 339.29,414.28 340,414.69 340.71,414.25 341.43,414.6 342.14,414.24 342.86,414.68 343.57,414.69 344.29,414.3 345,414.25 345.71,414.34 346.43,414.64 347.14,414.32 347.86,414.25 348.57,414.57 349.29,414.29 350,414.55 350.71,414.16 351.43,414.21 352.14,414.56 352.86,414.23 353.57,414.53 354.29,414.23 355,414.51 355.71,414.52 356.43,414.13 357.14,414.42 357.86,414.22 358.57,414.45 359.29,414.42 360,414.11 360.71,414.37 361.43,414.13 362.14,414.06 362.86,414.09 363.57,414.09 364.29,414.34 365,414.41 365.71,413.97 366.43,414.33 367.14,413.96 367.86,414.42 368.57,414.08 369.29,414.37 370,414.03 370.71,414.23 371.43,413.99 372.14,414.28 372.86,414 373.57,413.94 374.29,414.26 375,413.98 375.71,414.17 376.43,413.97 377.14,413.87 377.86,414.2 378.57,413.87 379.29,414.15 380,413.82 380.71,414.19 381.43,413.8 382.14,414.18 382.86,413.81 383.57,414.19 384.29,413.88 385,414.28 385.71,413.98 386.43,414.16 387.14,413.89 387.86,414.32 388.57,413.85 389.29,413.92 390,414.01 390.71,413.95 391.43,414.35 392.14,414.03 392.86,414.34 393.57,413.95 394.29,414.36 395,414.29 395.71,413.92 396.43,414.32 397.14,414.41 397.86,414.01 398.57,414.41 399.29,414.37 400,414.1 400.71,414.39 401.43,413.96 402.14,414.25 402.86,414.04 403.57,414.28 404.29,413.94 405,414.26 405.71,414.04 406.43,414.04 407.14,414.3 407.86,414.31 408.57,413.93 409.29,414.35 410,413.98 410.71,413.9 411.43,413.98 412.14,413.92 412.86,414.19 413.57,413.83 414.29,414.24 415,413.93 415.71,414.27 416.43,413.89 417.14,414.19 417.86,413.79 418.57,414.24 419.29,414.22 420,413.91 420.72,414.12 421.45,413.86 422.17,414.25 422.9,413.93 423.62,414.22 424.34,413.87 425.07,414.28 425.79,414.01 426.52,414.23 427.24,414.03 427.96,414.28 428.69,414.33 429.41,413.91 430.14,414.36 430.86,413.94 431.58,413.97 432.31,414.36 433.03,413.98 433.76,414.35 434.48,414.39 435.2,414.01 435.93,414.36 436.65,414.43 437.38,414.43 438.1,414.3" fill="none" stroke="#7a80d8" stroke-width="1.0" stroke-linejoin="round"/>
<polyline points="320,414.2 320.8,413.9 321.6,414.24 322.4,414.16 323.2,413.86 324,413.65 324.75,413.87 325.5,413.48 326.25,413.66 327,413.3 327.75,413.61 328.5,413.48 329.25,414.01 330,413.77 330.71,414.15 331.43,413.8 332.14,414.14 332.86,413.85 333.57,414.15 334.29,413.91 335,414.09 335.71,413.78 336.43,413.81 337.14,414.22 337.86,414.19 338.57,413.87 339.29,414.24 340,413.88 340.71,414.19 341.43,413.91 342.14,414.28 342.86,413.92 343.57,414.27 344.29,413.93 345,414.2 345.71,414.32 346.43,414.31 347.14,414.24 347.86,414.21 348.57,413.82 349.29,413.93 350,414.17 350.71,413.94 351.43,413.96 352.14,414.25 352.86,413.94 353.57,414.23 354.29,413.9 355,414.15 355.71,413.81 356.43,414.2 357.14,413.85 357.86,413.85 358.57,414.25 359.29,413.84 360,414.23 360.71,413.82 361.43,414.11 362.14,413.8 362.86,414.16 363.57,413.87 364.29,414.14 365,413.83 365.71,414.16 366.43,413.73 367.14,414.07 367.86,413.65 368.57,413.64 369.29,414.07 370,413.65 370.71,414.05 371.43,413.72 372.14,413.97 372.86,413.62 373.57,414 374.29,413.55 375,414.02 375.71,413.55 376.43,413.92 377.14,413.52 377.86,413.91 378.57,413.55 379.29,413.8 380,413.53 380.71,413.48 381.43,413.95 382.14,413.46 382.86,413.87 383.57,413.6 384.29,413.86 385,413.56 385.71,413.96 386.43,413.61 387.14,413.81 387.86,413.6 388.57,413.91 389.29,413.53 390,413.57 390.71,413.86 391.43,413.65 392.14,413.55 392.86,413.63 393.57,413.97 394.29,413.58 395,414.02 395.71,413.65 396.43,413.99 397.14,413.87 397.86,413.71 398.57,413.97 399.29,413.69 400,414.03 400.71,413.68 401.43,414 402.14,413.58 402.86,413.99 403.57,413.64 404.29,413.6 405,413.84 405.71,413.55 406.43,413.83 407.14,413.51 407.86,413.88 408.57,413.62 409.29,413.94 410,413.62 410.71,413.93 411.43,413.45 412.14,413.81 412.86,413.51 413.57,413.78 414.29,413.53 415,413.88 415.71,413.48 416.43,413.74 417.14,413.41 417.86,413.83 418.57,413.75 419.29,413.39 420,413.69 420.72,413.43 421.45,413.81 422.17,413.55 422.9,413.46 423.62,413.49 424.34,413.83 425.07,413.59 425.79,413.91 426.52,413.54 427.24,413.93 427.96,413.61 428.69,413.83 429.41,413.52 430.14,413.95 430.86,413.58 431.58,413.87 432.31,413.69 433.03,414.01 433.76,413.97 434.48,413.94 435.2,413.71 435.93,414.03 436.65,413.78 437.38,414.05 438.1,413.9" fill="none" stroke="#b060b8" stroke-width="1.1" stroke-linejoin="round"/>
<polyline points="320,381.1 320.97,380.77 321.93,382.9 322.9,382.81 323.87,383.12 324.83,381.29 325.8,382.3 326.7,382.45 327.6,380.56 328.5,381.83 329.4,381.41 330.45,379.14 331.5,379.56 332.47,379.16 333.43,381.85 334.4,381.21 335.37,381.67 336.33,378.63 337.3,377.4 338.27,376.37 339.23,376.42 340.2,374 341.13,376.89 342.07,376.15 343,378.68 343.97,376.89 344.93,377.05 345.9,378.57 346.87,377.12 347.83,378.56 348.8,377.64 349.77,378.73 350.73,376.32 351.7,377.37 352.63,377.14 353.57,378.67 354.5,378.34 355.4,379.45 356.3,377.77 357.2,378.88 358.1,377.42 359.07,379.91 360.03,379.74 361,380.29 361.97,382.2 362.93,385.15 363.9,385.8 364.95,384.43 366,380 366.97,378.55 367.93,377.35 368.9,377.55 369.87,375.14 370.83,375.95 371.8,373.9 372.7,374.65 373.6,372.36 374.5,372.69 375.4,370.01 376.27,372.6 377.13,371.09 378,373.12 378.97,372.02 379.93,373.25 380.9,372.15 381.8,374.8 382.7,375.29 383.6,377.03 384.5,380.09 385.32,379.45 386.15,381.3 386.98,380.62 387.8,382.88 388.62,382.35 389.45,384.39 390.28,383.39 391.1,385.5 391.88,385.23 392.66,387.5 393.44,386.47 394.22,388.75 395,388.49 396,390.73 397,389.82 397.95,390.04 398.9,388.69 399.77,386.64 400.63,387.18 401.5,384.66 402.37,385.92 403.23,383.93 404.1,385.04 405,384.29 405.9,386.64 406.8,385.84 407.67,387.24 408.53,385.86 409.4,386.23 410.27,387.12 411.13,385.54 412,386.69 412.87,385.54 413.73,387.32 414.6,386.28 415.47,386.31 416.33,387.08 417.2,385.64 418.07,387.39 418.93,386.35 419.8,388.57 420.67,388.2 421.53,386.28 422.4,386.86 423.3,386.56 424.2,387.11 425.1,389.31 425.97,387.51 426.83,388.25 427.7,386.12 428.57,387.16 429.43,386.07 430.3,387.06 431.17,386.07 432.03,386.18 432.9,386.89 433.77,388.05 434.63,386.12 435.5,387.34 436.37,387.08 437.23,389.22 438.1,389.6" fill="none" stroke="#10b8b8" stroke-width="1.25" stroke-linejoin="round"/>
<polyline points="320,377.5 320.97,376.36 321.93,376.16 322.9,375.13 323.87,376.02 324.83,378.89 325.8,378.46 326.7,377.71 327.6,378.24 328.5,376.99 329.4,377.21 330.37,375.05 331.33,375.35 332.3,374.82 333.23,374.61 334.17,377.05 335.1,376.93 336.07,376.77 337.03,374.3 338,373.69 339.1,371.55 340.2,371.97 341.13,371.02 342.07,373.92 343,374.46 344.1,374.18 345.2,377.07 346.17,374.47 347.13,375.6 348.1,375.16 349.07,373.83 350.03,373.57 351,374.32 351.93,374.97 352.87,374.71 353.8,376.97 354.77,376.46 355.73,374.96 356.7,375.66 357.67,375.29 358.63,377.75 359.6,378.59 360.57,377.55 361.53,379.24 362.5,378.27 363.43,377.44 364.37,374.25 365.3,372.36 366.27,372.93 367.23,372.65 368.2,370.3 369.17,370.43 370.13,368.72 371.1,367.49 372.07,368.08 373.03,365.15 374,364.59 374.93,364.3 375.87,361.09 376.8,360.3 378,360.99 379.1,359.43 380.2,360.4 381.25,361.9 382.3,362.61 383.27,364.57 384.23,364.07 385.2,366.49 386.17,366.63 387.13,369.9 388.1,370.31 389.03,371.71 389.97,374.89 390.9,374.62 391.87,376.42 392.83,379.19 393.8,379.46 395,387.84 395.85,387.32 396.7,384.61 397.8,382.42 398.9,376.97 399.9,381.65 400.9,384.95 401.7,384.66 402.5,383.4 403.3,382.97 404.1,380.18 405,382.72 405.9,384.18 406.8,384.01 407.67,385.19 408.53,384.51 409.4,386.39 410.27,384.68 411.13,385.26 412,383.36 412.87,385.06 413.73,384.81 414.6,386.97 415.47,384.59 416.33,385.48 417.2,385.44 418.07,384.09 418.93,385.32 419.8,383.97 420.67,386.16 421.53,385.41 422.4,386.67 423.3,385.06 424.2,385.11 425.1,383.23 426.05,387.39 427,389.03 428,388.11 429,385.68 429.87,385.66 430.73,384.67 431.6,386.09 432.47,384.93 433.33,385.61 434.2,385.11 435.2,385.01 436.2,386.92 437.15,387.52 438.1,389.6" fill="none" stroke="#15a845" stroke-width="1.25" stroke-linejoin="round"/>
<polyline points="320,370.3 320.97,369.79 321.93,371.97 322.9,371.11 323.87,371.52 324.83,368.54 325.8,368.93 326.7,367.93 327.6,369.24 328.5,369.64 329.4,369.34 330.37,367.39 331.33,367.94 332.3,367.52 333.2,365.65 334.1,366.91 335,365.06 335.9,364.38 336.83,365.03 337.77,363.3 338.7,362.76 339.67,361.45 340.63,360.04 341.6,360.59 342.7,359.52 343.8,362.21 344.73,359.79 345.67,359.71 346.6,357.07 347.57,359.14 348.53,358.81 349.5,360.57 350.47,362.48 351.43,361.26 352.4,363.79 353.37,363.46 354.33,362.8 355.3,361.24 356.23,360.02 357.17,360.32 358.1,358.08 359.07,360.34 360.03,359.95 361,360.94 361.97,361.7 362.93,363.38 363.9,362.64 364.87,362.86 365.83,359.84 366.8,358.98 367.73,358.58 368.67,359.51 369.6,358.97 370.57,355.33 371.53,355.03 372.5,353 373.36,351.08 374.22,351.78 375.08,349.61 375.94,350.3 376.8,348.09 378,351.79 378.9,348.24 379.8,347.84 380.7,344.47 381.6,342.77 382.7,345.8 383.8,345.85 384.73,348.02 385.67,347.94 386.6,350.29 387.57,350.82 388.53,352.25 389.5,351.4 390.47,353.87 391.43,352.73 392.4,355 393.37,354.86 394.33,357.51 395.3,359.17 396.23,358.36 397.17,360.5 398.1,360.48 399.07,361.81 400.03,359.64 401,361.17 401.97,360.21 402.93,362.14 403.9,360.78 404.87,362.04 405.83,359.62 406.8,359.84 407.73,359.63 408.67,359.67 409.6,361.44 410.57,361.08 411.53,359.97 412.5,359.75 413.47,361.91 414.43,361.95 415.4,363 416.37,362.69 417.33,363.18 418.3,362.76 419.23,362.06 420.17,365.6 421.1,365.38 422.07,366.67 423.03,365.96 424,364.88 424.9,365.86 425.8,366.32 426.7,364.99 427.6,367.03 428.57,364.33 429.53,364.74 430.5,363.45 431.47,363.72 432.43,366.85 433.4,366.92 434.3,369.13 435.2,368.31 436.1,370.42 437,369.76 438.05,370.43 439.1,369.6" fill="none" stroke="#b09a10" stroke-width="1.25" stroke-linejoin="round"/>
<polyline points="320,366.4 320.9,365.61 321.8,366.38 322.7,366.34 323.6,364.26 324.57,365.39 325.53,363.17 326.5,364.11 327.47,362.71 328.43,364.42 329.4,362.82 330.37,362.62 331.33,361.79 332.3,363.18 333.16,361.14 334.02,361.91 334.88,360.48 335.74,359.5 336.6,359.26 337.53,360.3 338.47,358.92 339.4,359.49 340.5,355.07 341.6,353.41 342.7,355.11 343.8,355.28 344.73,357.9 345.67,358.3 346.6,359.75 347.57,356.95 348.53,354.78 349.5,351.24 350.6,353.51 351.7,353.5 352.6,355.63 353.5,354.43 354.4,355.48 355.3,354.35 356.23,355.44 357.17,353.99 358.1,354.91 359.07,353.23 360.03,353.24 361,354.7 361.97,353.34 362.93,355.81 363.9,354.7 364.95,354.63 366,352.46 367.1,353.21 368.2,351.14 369.3,348.09 370.4,343.32 371.45,341.97 372.5,338.36 373.6,337.2 374.7,337.55 375.75,335.42 376.8,336.45 378,334.78 378.97,334.96 379.93,332.39 380.9,331.89 381.95,330.02 383,330.98 384.1,330.27 385.2,332.52 386.25,332.89 387.3,336.85 388.4,337.33 389.5,341.66 390.6,341.47 391.7,343.55 392.75,344.95 393.8,344.9 394.55,350.47 395.3,352.09 396.35,352.86 397.4,352.22 398.5,352.58 399.6,354.45 400.53,354.47 401.47,356.73 402.4,355.22 403.37,354.56 404.33,355.87 405.3,353.48 406.27,356.22 407.23,354.95 408.2,357.66 409.1,354.89 410,355.41 410.9,352.72 411.8,353 412.9,355.85 414,356.31 414.93,357.96 415.87,356.04 416.8,356.47 417.77,354.22 418.73,354.99 419.7,352.44 420.67,354.77 421.63,354.39 422.6,356.86 423.57,355.64 424.53,355.43 425.5,355.84 426.43,357.42 427.37,358.46 428.3,361.72 429.27,361.07 430.23,363.96 431.2,362.75 432.3,360.82 433.4,359.33 434.45,359.54 435.5,363.01 436.47,362.04 437.43,363.69 438.4,363.1" fill="none" stroke="#f07068" stroke-width="1.25" stroke-linejoin="round"/>
<rect x="315.0" y="325.0" width="130.6" height="94.3" fill="none" stroke="#111" stroke-width="1.2"/>
<line x1="448.9" y1="355.2" x2="454.6" y2="355.2" stroke="#d8806a" stroke-width="1.0"/>
<line x1="448.9" y1="363.65" x2="454.6" y2="363.65" stroke="#a89030" stroke-width="1.0"/>
<line x1="448.9" y1="372.1" x2="454.6" y2="372.1" stroke="#30a050" stroke-width="1.0"/>
<line x1="448.9" y1="380.55" x2="454.6" y2="380.55" stroke="#30a8a8" stroke-width="1.0"/>
<line x1="448.9" y1="389" x2="454.6" y2="389" stroke="#60a0b0" stroke-width="1.0"/>
<line x1="448.9" y1="397.45" x2="454.6" y2="397.45" stroke="#c070a8" stroke-width="1.0"/>
</g>
<g filter="url(#bl2)">
<text x="7.2" y="15.8" font-size="11" font-weight="bold" stroke="#000" stroke-width="0.45">A</text>
<text x="35" y="28.7" font-size="6.4" fill="#222" textLength="12.8" lengthAdjust="spacingAndGlyphs" stroke="#222" stroke-width="0.15">Scale</text>
<text x="103" y="28" font-size="6.4" fill="#222" textLength="13.2" lengthAdjust="spacingAndGlyphs" stroke="#222" stroke-width="0.15">10 kb</text>
<text x="169.2" y="28.5" font-size="6.4" fill="#222" textLength="11.8" lengthAdjust="spacingAndGlyphs" stroke="#222" stroke-width="0.15">mm9</text>
<text x="34.2" y="35.8" font-size="6.0" fill="#4a4a8c" textLength="11.8" lengthAdjust="spacingAndGlyphs" stroke="#4a4a8c" stroke-width="0.15">Dot1l</text>
<text x="35" y="41.8" font-size="5.2" fill="#6cb06c" textLength="9.3" lengthAdjust="spacingAndGlyphs" stroke="#6cb06c" stroke-width="0.00">800</text>
<text x="40.2" y="53.2" font-size="5.2" fill="#6cb06c" stroke="#6cb06c" stroke-width="0.00">0</text>
<text x="7.2" y="47" font-size="5.6" fill="#4ea44e" textLength="25" lengthAdjust="spacingAndGlyphs" stroke="#4ea44e" stroke-width="0.00">m04_RNA</text>
<text x="35" y="58.4" font-size="5.2" fill="#6cb06c" textLength="9.3" lengthAdjust="spacingAndGlyphs" stroke="#6cb06c" stroke-width="0.00">800</text>
<text x="40.2" y="69.8" font-size="5.2" fill="#6cb06c" stroke="#6cb06c" stroke-width="0.00">0</text>
<text x="7.2" y="63.6" font-size="5.6" fill="#4ea44e" textLength="25" lengthAdjust="spacingAndGlyphs" stroke="#4ea44e" stroke-width="0.00">m12_RNA</text>
<text x="35" y="74.9" font-size="5.2" fill="#6cb06c" textLength="9.3" lengthAdjust="spacingAndGlyphs" stroke="#6cb06c" stroke-width="0.00">800</text>
<text x="40.2" y="86.3" font-size="5.2" fill="#6cb06c" stroke="#6cb06c" stroke-width="0.00">0</text>
<text x="7.2" y="80.1" font-size="5.6" fill="#4ea44e" textLength="25" lengthAdjust="spacingAndGlyphs" stroke="#4ea44e" stroke-width="0.00">m24_RNA</text>
<text x="35" y="92.1" font-size="5.2" fill="#6cb06c" textLength="9.3" lengthAdjust="spacingAndGlyphs" stroke="#6cb06c" stroke-width="0.00">800</text>
<text x="40.2" y="102.9" font-size="5.2" fill="#6cb06c" stroke="#6cb06c" stroke-width="0.00">0</text>
<text x="7.2" y="96.7" font-size="5.6" fill="#4ea44e" textLength="35" lengthAdjust="spacingAndGlyphs" stroke="#4ea44e" stroke-width="0.00">Dnmt3a<tspan font-size="3.4" dy="-1.6">-/-</tspan><tspan dy="1.6">_RNA</tspan></text>
<text x="243.6" y="15.8" font-size="11" font-weight="bold" stroke="#000" stroke-width="0.45">B</text>
<text x="305.8" y="30.3" font-size="9.6" font-weight="bold" textLength="27.2" lengthAdjust="spacingAndGlyphs" stroke="#000" stroke-width="0.15">FPKM</text>
<text x="251.6" y="67.8" font-size="9.2" text-anchor="middle" textLength="22.2" lengthAdjust="spacingAndGlyphs" transform="rotate(-90 251.6 67.8)" stroke="#000" stroke-width="0.15">FPKM</text>
<text x="265.2" y="102.1" font-size="8.3" text-anchor="end" stroke="#000" stroke-width="0.15">0</text>
<text x="265.2" y="89.91" font-size="8.3" text-anchor="end" stroke="#000" stroke-width="0.15">10</text>
<text x="265.2" y="77.72" font-size="8.3" text-anchor="end" stroke="#000" stroke-width="0.15">20</text>
<text x="265.2" y="65.53" font-size="8.3" text-anchor="end" stroke="#000" stroke-width="0.15">30</text>
<text x="265.2" y="53.34" font-size="8.3" text-anchor="end" stroke="#000" stroke-width="0.15">40</text>
<text x="265.2" y="41.15" font-size="8.3" text-anchor="end" stroke="#000" stroke-width="0.15">50</text>
<text x="288.4" y="109.4" font-size="9.0" text-anchor="end" textLength="33.2" lengthAdjust="spacingAndGlyphs" transform="rotate(-45 288.4 109.4)" stroke="#000" stroke-width="0.15">WT 4mos</text>
<text x="311.2" y="109.4" font-size="9.0" text-anchor="end" textLength="38" lengthAdjust="spacingAndGlyphs" transform="rotate(-45 311.2 109.4)" stroke="#000" stroke-width="0.15">WT 12mos</text>
<text x="334.2" y="109.4" font-size="9.0" text-anchor="end" textLength="38" lengthAdjust="spacingAndGlyphs" transform="rotate(-45 334.2 109.4)" stroke="#000" stroke-width="0.15">WT 24mos</text>
<text x="357.6" y="111.1" font-size="9.0" text-anchor="end" transform="rotate(-45 357.6 111.1)" textLength="31" lengthAdjust="spacingAndGlyphs" stroke="#000" stroke-width="0.15">Dnmt3a<tspan font-size="5.2" dy="-3.2">-/-</tspan></text>
<text x="376.8" y="15.7" font-size="11" font-weight="bold" stroke="#000" stroke-width="0.45">C</text>
<text x="435.9" y="30.8" font-size="9.6" font-weight="bold" textLength="41" lengthAdjust="spacingAndGlyphs" stroke="#000" stroke-width="0.15">qRT-PCR</text>
<text x="406" y="101.9" font-size="8.3" text-anchor="end" stroke="#000" stroke-width="0.15">0</text>
<text x="406" y="87.28" font-size="8.3" text-anchor="end" stroke="#000" stroke-width="0.15">2</text>
<text x="406" y="72.66" font-size="8.3" text-anchor="end" stroke="#000" stroke-width="0.15">4</text>
<text x="406" y="58.04" font-size="8.3" text-anchor="end" stroke="#000" stroke-width="0.15">6</text>
<text x="406" y="43.42" font-size="8.3" text-anchor="end" stroke="#000" stroke-width="0.15">8</text>
<text x="383.9" y="69.2" font-size="9.4" text-anchor="middle" transform="rotate(-90 383.9 69.2)" textLength="29.4" lengthAdjust="spacingAndGlyphs" stroke="#000" stroke-width="0.15">Relative</text>
<text x="395.2" y="68.5" font-size="9.4" text-anchor="middle" transform="rotate(-90 395.2 68.5)" textLength="73.2" lengthAdjust="spacingAndGlyphs" stroke="#000" stroke-width="0.15">Expression (2<tspan font-size="6" dy="-3.6">-ddCt</tspan><tspan dy="3.6">)</tspan></text>
<text x="453.8" y="45.3" font-size="8" font-weight="bold" text-anchor="middle" textLength="10.4" lengthAdjust="spacingAndGlyphs" stroke="#000" stroke-width="0.15">***</text>
<text x="442.3" y="50.7" font-size="8" font-weight="bold" text-anchor="middle" textLength="10.4" lengthAdjust="spacingAndGlyphs" stroke="#000" stroke-width="0.15">***</text>
<text x="431.4" y="108.6" font-size="8.6" text-anchor="end" textLength="12.2" lengthAdjust="spacingAndGlyphs" transform="rotate(-45 431.4 108.6)" stroke="#000" stroke-width="0.15">WT</text>
<text x="462.8" y="109.0" font-size="9.0" text-anchor="end" transform="rotate(-45 462.8 109.0)" textLength="48" lengthAdjust="spacingAndGlyphs" stroke="#000" stroke-width="0.15">Dnmt3a<tspan font-size="5.6" dy="-3.2">-/-</tspan><tspan dy="3.2">BR1</tspan></text>
<text x="492.9" y="108.2" font-size="9.0" text-anchor="end" transform="rotate(-45 492.9 108.2)" textLength="49" lengthAdjust="spacingAndGlyphs" stroke="#000" stroke-width="0.15">Dnmt3a<tspan font-size="5.6" dy="-3.2">-/-</tspan><tspan dy="3.2">BR2</tspan></text>
<text x="7.6" y="171.2" font-size="11" font-weight="bold" stroke="#000" stroke-width="0.45">D</text>
<text x="83.15" y="188" font-size="8.6" text-anchor="middle" textLength="87" lengthAdjust="spacingAndGlyphs" stroke="#000" stroke-width="0.15">Transcription Start Site</text>
<text x="13.4" y="228.8" font-size="7.6" text-anchor="middle" textLength="70.5" lengthAdjust="spacingAndGlyphs" transform="rotate(-90 13.4 228.8)" stroke="#000" stroke-width="0.15">Average signal value</text>
<text x="30.4" y="262.7" font-size="6.0" text-anchor="end" stroke="#000" stroke-width="0.15">20</text>
<text x="30.4" y="245.79" font-size="6.0" text-anchor="end" stroke="#000" stroke-width="0.15">40</text>
<text x="30.4" y="228.88" font-size="6.0" text-anchor="end" stroke="#000" stroke-width="0.15">60</text>
<text x="30.4" y="211.97" font-size="6.0" text-anchor="end" stroke="#000" stroke-width="0.15">80</text>
<text x="30.4" y="195.06" font-size="6.0" text-anchor="end" stroke="#000" stroke-width="0.15">100</text>
<text x="39.4" y="279.3" font-size="6.0" text-anchor="middle" stroke="#000" stroke-width="0.15">−1500</text>
<text x="54" y="279.3" font-size="6.0" text-anchor="middle" stroke="#000" stroke-width="0.15"></text>
<text x="68.6" y="279.3" font-size="6.0" text-anchor="middle" stroke="#000" stroke-width="0.15">−500</text>
<text x="83.2" y="279.3" font-size="6.0" text-anchor="middle" stroke="#000" stroke-width="0.15">0</text>
<text x="97.8" y="279.3" font-size="6.0" text-anchor="middle" stroke="#000" stroke-width="0.15">500</text>
<text x="112.4" y="279.3" font-size="6.0" text-anchor="middle" stroke="#000" stroke-width="0.15"></text>
<text x="127" y="279.3" font-size="6.0" text-anchor="middle" stroke="#000" stroke-width="0.15">1500</text>
<text x="83.15" y="291.3" font-size="8.4" text-anchor="middle" textLength="56.8" lengthAdjust="spacingAndGlyphs" stroke="#000" stroke-width="0.15">Relative distance</text>
<text x="104.3" y="201.9" font-size="6.0" fill="#111" textLength="7.6" lengthAdjust="spacingAndGlyphs" stroke="#111" stroke-width="0.15">WT</text>
<text x="104.3" y="207.6" font-size="6.0" fill="#111" textLength="22.6" lengthAdjust="spacingAndGlyphs" stroke="#111" stroke-width="0.15">Dnmt3a<tspan font-size="3.8" dy="-2.2">-/-</tspan></text>
<text x="209.15" y="188" font-size="8.6" text-anchor="middle" textLength="65.2" lengthAdjust="spacingAndGlyphs" stroke="#000" stroke-width="0.15">Coding Start Site</text>
<text x="143.4" y="228.8" font-size="7.6" text-anchor="middle" textLength="70.5" lengthAdjust="spacingAndGlyphs" transform="rotate(-90 143.4 228.8)" stroke="#000" stroke-width="0.15">Average signal value</text>
<text x="156.4" y="261.9" font-size="6.0" text-anchor="end" stroke="#000" stroke-width="0.15">30</text>
<text x="156.4" y="246.08" font-size="6.0" text-anchor="end" stroke="#000" stroke-width="0.15">40</text>
<text x="156.4" y="230.25" font-size="6.0" text-anchor="end" stroke="#000" stroke-width="0.15">50</text>
<text x="156.4" y="214.43" font-size="6.0" text-anchor="end" stroke="#000" stroke-width="0.15">60</text>
<text x="156.4" y="198.6" font-size="6.0" text-anchor="end" stroke="#000" stroke-width="0.15">70</text>
<text x="165.6" y="279.3" font-size="6.0" text-anchor="middle" stroke="#000" stroke-width="0.15">−1500</text>
<text x="180" y="279.3" font-size="6.0" text-anchor="middle" stroke="#000" stroke-width="0.15"></text>
<text x="194.4" y="279.3" font-size="6.0" text-anchor="middle" stroke="#000" stroke-width="0.15">−500</text>
<text x="208.8" y="279.3" font-size="6.0" text-anchor="middle" stroke="#000" stroke-width="0.15">0</text>
<text x="223.2" y="279.3" font-size="6.0" text-anchor="middle" stroke="#000" stroke-width="0.15">500</text>
<text x="237.6" y="279.3" font-size="6.0" text-anchor="middle" stroke="#000" stroke-width="0.15"></text>
<text x="252" y="279.3" font-size="6.0" text-anchor="middle" stroke="#000" stroke-width="0.15">1500</text>
<text x="209.15" y="291.3" font-size="8.4" text-anchor="middle" textLength="56.8" lengthAdjust="spacingAndGlyphs" stroke="#000" stroke-width="0.15">Relative distance</text>
<text x="230.3" y="201.9" font-size="6.0" fill="#111" textLength="7.6" lengthAdjust="spacingAndGlyphs" stroke="#111" stroke-width="0.15">WT</text>
<text x="230.3" y="207.6" font-size="6.0" fill="#111" textLength="22.6" lengthAdjust="spacingAndGlyphs" stroke="#111" stroke-width="0.15">Dnmt3a<tspan font-size="3.8" dy="-2.2">-/-</tspan></text>
<text x="335" y="188" font-size="8.6" text-anchor="middle" textLength="18.6" lengthAdjust="spacingAndGlyphs" stroke="#000" stroke-width="0.15">UMR</text>
<text x="269.2" y="228.8" font-size="7.6" text-anchor="middle" textLength="70.5" lengthAdjust="spacingAndGlyphs" transform="rotate(-90 269.2 228.8)" stroke="#000" stroke-width="0.15">Average signal value</text>
<text x="282.2" y="256.6" font-size="6.0" text-anchor="end" stroke="#000" stroke-width="0.15">32</text>
<text x="282.2" y="242.7" font-size="6.0" text-anchor="end" stroke="#000" stroke-width="0.15">34</text>
<text x="282.2" y="228.8" font-size="6.0" text-anchor="end" stroke="#000" stroke-width="0.15">36</text>
<text x="282.2" y="214.9" font-size="6.0" text-anchor="end" stroke="#000" stroke-width="0.15">38</text>
<text x="282.2" y="201" font-size="6.0" text-anchor="end" stroke="#000" stroke-width="0.15">40</text>
<text x="296.7" y="279.3" font-size="6.0" text-anchor="middle" stroke="#000" stroke-width="0.15">−1000</text>
<text x="316.15" y="279.3" font-size="6.0" text-anchor="middle" stroke="#000" stroke-width="0.15">0</text>
<text x="335.6" y="279.3" font-size="6.0" text-anchor="middle" stroke="#000" stroke-width="0.15">1000</text>
<text x="355.05" y="279.3" font-size="6.0" text-anchor="middle" stroke="#000" stroke-width="0.15">2000</text>
<text x="374.5" y="279.3" font-size="6.0" text-anchor="middle" stroke="#000" stroke-width="0.15">3000</text>
<text x="335" y="291.3" font-size="8.4" text-anchor="middle" textLength="56.8" lengthAdjust="spacingAndGlyphs" stroke="#000" stroke-width="0.15">Relative distance</text>
<text x="356.1" y="201.9" font-size="6.0" fill="#111" textLength="7.6" lengthAdjust="spacingAndGlyphs" stroke="#111" stroke-width="0.15">WT</text>
<text x="356.1" y="207.6" font-size="6.0" fill="#111" textLength="22.6" lengthAdjust="spacingAndGlyphs" stroke="#111" stroke-width="0.15">Dnmt3a<tspan font-size="3.8" dy="-2.2">-/-</tspan></text>
<text x="462.35" y="188" font-size="8.6" text-anchor="middle" textLength="30.2" lengthAdjust="spacingAndGlyphs" stroke="#000" stroke-width="0.15">Canyon</text>
<text x="394" y="228.8" font-size="7.6" text-anchor="middle" textLength="70.5" lengthAdjust="spacingAndGlyphs" transform="rotate(-90 394 228.8)" stroke="#000" stroke-width="0.15">Average signal value</text>
<text x="409.5" y="260.3" font-size="6.0" text-anchor="end" stroke="#000" stroke-width="0.15">80</text>
<text x="409.5" y="245.25" font-size="6.0" text-anchor="end" stroke="#000" stroke-width="0.15">100</text>
<text x="409.5" y="230.2" font-size="6.0" text-anchor="end" stroke="#000" stroke-width="0.15">120</text>
<text x="409.5" y="215.15" font-size="6.0" text-anchor="end" stroke="#000" stroke-width="0.15">140</text>
<text x="409.5" y="200.1" font-size="6.0" text-anchor="end" stroke="#000" stroke-width="0.15">160</text>
<text x="429.6" y="279.3" font-size="6.0" text-anchor="middle" stroke="#000" stroke-width="0.15">−1000</text>
<text x="448.68" y="279.3" font-size="6.0" text-anchor="middle" stroke="#000" stroke-width="0.15">0</text>
<text x="467.76" y="279.3" font-size="6.0" text-anchor="middle" stroke="#000" stroke-width="0.15">1000</text>
<text x="486.84" y="279.3" font-size="6.0" text-anchor="middle" stroke="#000" stroke-width="0.15">2000</text>
<text x="505.92" y="279.3" font-size="6.0" text-anchor="middle" stroke="#000" stroke-width="0.15">3000</text>
<text x="462.35" y="291.3" font-size="8.4" text-anchor="middle" textLength="56.8" lengthAdjust="spacingAndGlyphs" stroke="#000" stroke-width="0.15">Relative distance</text>
<text x="483.4" y="201.9" font-size="6.0" fill="#111" textLength="7.6" lengthAdjust="spacingAndGlyphs" stroke="#111" stroke-width="0.15">WT</text>
<text x="483.4" y="207.6" font-size="6.0" fill="#111" textLength="22.6" lengthAdjust="spacingAndGlyphs" stroke="#111" stroke-width="0.15">Dnmt3a<tspan font-size="3.8" dy="-2.2">-/-</tspan></text>
<text x="7.6" y="318.9" font-size="11" font-weight="bold" stroke="#000" stroke-width="0.45">E</text>
<text x="55.2" y="332.6" font-size="6.6" fill="#222" textLength="16.3" lengthAdjust="spacingAndGlyphs" stroke="#222" stroke-width="0.15">Scale</text>
<text x="124" y="332.6" font-size="6.6" fill="#222" textLength="15.4" lengthAdjust="spacingAndGlyphs" stroke="#222" stroke-width="0.15">10 kb</text>
<text x="156.2" y="337.3" font-size="6.2" fill="#3a5a9a" textLength="18.6" lengthAdjust="spacingAndGlyphs" stroke="#3a5a9a" stroke-width="0.15">Gata2</text>
<text x="59.8" y="341.1" font-size="3.6" fill="#c06060" stroke="#c06060" stroke-width="0.00">100 -</text>
<text x="24.2" y="349" font-size="5.6" fill="#c44a44" textLength="38.2" lengthAdjust="spacingAndGlyphs" stroke="#c44a44" stroke-width="0.00">WT methylation</text>
<text x="63.3" y="357.3" font-size="3.6" fill="#c06060" stroke="#c06060" stroke-width="0.00">0</text>
<text x="51.4" y="361.4" font-size="4.2" fill="#2a3f8f" textLength="15.8" lengthAdjust="spacingAndGlyphs" stroke="#2a3f8f" stroke-width="0.00">WT UMR</text>
<text x="59.8" y="365.5" font-size="3.6" fill="#c06060" stroke="#c06060" stroke-width="0.00">100 -</text>
<text x="13.2" y="373.8" font-size="5.6" fill="#c44a44" textLength="50.6" lengthAdjust="spacingAndGlyphs" stroke="#c44a44" stroke-width="0.00">Dnmt3a<tspan font-size="3.6" dy="-2">-/-</tspan><tspan dy="2"> methylation</tspan></text>
<text x="63.3" y="382.1" font-size="3.6" fill="#c06060" stroke="#c06060" stroke-width="0.00">0</text>
<text x="40.5" y="386.5" font-size="4.2" fill="#2a3f8f" textLength="26.8" lengthAdjust="spacingAndGlyphs" stroke="#2a3f8f" stroke-width="0.00">Dnmt3a<tspan font-size="2.8" dy="-1.4">-/-</tspan><tspan dy="1.4"> UMR</tspan></text>
<text x="59.8" y="390.6" font-size="3.6" fill="#7070a0" stroke="#7070a0" stroke-width="0.00">100 -</text>
<text x="34.8" y="398.5" font-size="5.6" fill="#2a3f8f" textLength="19.3" lengthAdjust="spacingAndGlyphs" stroke="#2a3f8f" stroke-width="0.00">WT K79</text>
<text x="63.3" y="404.1" font-size="3.6" fill="#7070a0" stroke="#7070a0" stroke-width="0.00">0</text>
<text x="59.8" y="407" font-size="3.6" fill="#c06060" stroke="#c06060" stroke-width="0.00">100 -</text>
<text x="23.2" y="414.5" font-size="5.6" fill="#c44a44" textLength="33" lengthAdjust="spacingAndGlyphs" stroke="#c44a44" stroke-width="0.00">Dnmt3a<tspan font-size="3.6" dy="-2">-/-</tspan><tspan dy="2"> K79</tspan></text>
<text x="285.4" y="319.4" font-size="11" font-weight="bold" stroke="#000" stroke-width="0.45">F</text>
<text x="308.9" y="417.4" font-size="6.0" fill="#111" text-anchor="end" stroke="#111" stroke-width="0.15">0</text>
<text x="308.9" y="393.84" font-size="6.0" fill="#111" text-anchor="end" stroke="#111" stroke-width="0.15">50</text>
<text x="308.9" y="370.27" font-size="6.0" fill="#111" text-anchor="end" stroke="#111" stroke-width="0.15">100</text>
<text x="308.9" y="346.71" font-size="6.0" fill="#111" text-anchor="end" stroke="#111" stroke-width="0.15">150</text>
<text x="336.4" y="431.2" font-size="6.2" fill="#111" text-anchor="middle" stroke="#111" stroke-width="0.15">−1000</text>
<text x="364.4" y="431.2" font-size="6.2" fill="#111" text-anchor="middle" stroke="#111" stroke-width="0.15">0</text>
<text x="386.7" y="431.2" font-size="6.2" fill="#111" text-anchor="middle" stroke="#111" stroke-width="0.15">1000</text>
<text x="413.4" y="431.2" font-size="6.2" fill="#111" text-anchor="middle" stroke="#111" stroke-width="0.15">2000</text>
<text x="439.9" y="431.2" font-size="6.2" fill="#111" text-anchor="middle" stroke="#111" stroke-width="0.15">3000</text>
<text x="380" y="442.6" font-size="8.2" fill="#222" text-anchor="middle" textLength="27.2" lengthAdjust="spacingAndGlyphs" stroke="#222" stroke-width="0.15">position</text>
<text x="293.1" y="371.6" font-size="7.8" fill="#222" text-anchor="middle" textLength="39.6" lengthAdjust="spacingAndGlyphs" transform="rotate(-90 293.1 371.6)" stroke="#222" stroke-width="0.15">H3K79me2</text>
<text x="461.3" y="345.3" font-size="5.8" fill="#111" font-weight="bold" textLength="34.8" lengthAdjust="spacingAndGlyphs" stroke="#111" stroke-width="0.15">H3K79_group</text>
<text x="458.2" y="356.7" font-size="5.7" fill="#111" class="lg" stroke="#111" stroke-width="0.14">Dnmt3a<tspan font-size="3.6" dy="-2">-/-</tspan><tspan dy="2"> expand</tspan></text>
<text x="458.2" y="365.15" font-size="5.7" fill="#111" class="lg" stroke="#111" stroke-width="0.14">WT expand</text>
<text x="458.2" y="373.6" font-size="5.7" fill="#111" class="lg" stroke="#111" stroke-width="0.14">Dnmt3a<tspan font-size="3.6" dy="-2">-/-</tspan><tspan dy="2"> no change</tspan></text>
<text x="458.2" y="382.05" font-size="5.7" fill="#111" class="lg" stroke="#111" stroke-width="0.14">WT no change</text>
<text x="458.2" y="390.5" font-size="5.7" fill="#111" class="lg" stroke="#111" stroke-width="0.14">Dnmt3a<tspan font-size="3.6" dy="-2">-/-</tspan><tspan dy="2"> no contract</tspan></text>
<text x="458.2" y="398.95" font-size="5.7" fill="#111" class="lg" stroke="#111" stroke-width="0.14">WT contract</text>
</g>
<rect x="0.5" y="0.5" width="519" height="451" fill="none" stroke="#000" stroke-width="1"/>
</svg>
</body></html>
